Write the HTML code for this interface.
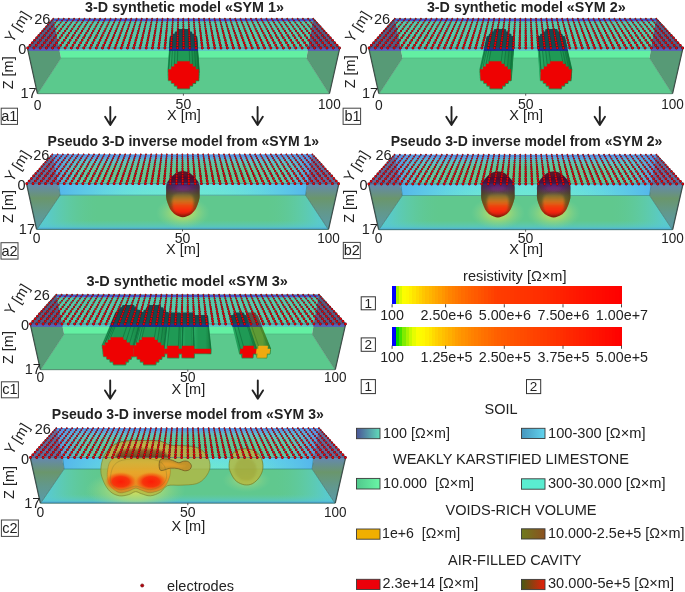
<!DOCTYPE html>
<html><head><meta charset="utf-8"><title>Synthetic and inverse resistivity models</title>
<style>
html,body{margin:0;padding:0;background:#fff;}
body{width:685px;height:592px;overflow:hidden;font-family:"Liberation Sans",sans-serif;}
svg{display:block;}
svg text{font-family:"Liberation Sans",sans-serif;}
</style></head><body>
<svg width="685" height="592" viewBox="0 0 685 592">
<defs>
<filter id="bl1" x="-20%" y="-20%" width="140%" height="140%"><feGaussianBlur stdDeviation="1.2"/></filter>
<filter id="bl2" x="-30%" y="-30%" width="160%" height="160%"><feGaussianBlur stdDeviation="2.5"/></filter>
<filter id="bl3" x="-40%" y="-40%" width="180%" height="180%"><feGaussianBlur stdDeviation="4"/></filter>
<filter id="bl04" x="-2%" y="-10%" width="104%" height="120%"><feGaussianBlur stdDeviation="0.42"/></filter>
<filter id="bl05" x="-20%" y="-20%" width="140%" height="140%"><feGaussianBlur stdDeviation="0.6"/></filter>
<clipPath id="c1"><polygon points="27.7,48.0 339.5,48.0 313.3,18.7 53.3,18.7"/></clipPath>
<clipPath id="c2"><polygon points="27.7,48.0 339.5,48.0 338.8,51.0 28.4,51.0"/></clipPath>
<clipPath id="c3"><polygon points="28.4,51.0 338.8,51.0 329.2,93.7 37.7,93.7"/></clipPath>
<linearGradient id="g1" gradientUnits="userSpaceOnUse" x1="168.4" y1="0.0" x2="198.7" y2="0.0"><stop offset="0" stop-color="#2cae68" stop-opacity="1"/><stop offset="0.3" stop-color="#1f9a55" stop-opacity="1"/><stop offset="0.7" stop-color="#1f9a55" stop-opacity="1"/><stop offset="1" stop-color="#16803f" stop-opacity="1"/></linearGradient>
<path id="synr13" d="M53.3 18.7h0M58.5 18.7h0M63.7 18.7h0M68.9 18.7h0M74.1 18.7h0M79.3 18.7h0M84.5 18.7h0M89.7 18.7h0M94.9 18.7h0M100.1 18.7h0M105.3 18.7h0M110.5 18.7h0M115.7 18.7h0M120.9 18.7h0M126.1 18.7h0M131.3 18.7h0M136.5 18.7h0M141.7 18.7h0M146.9 18.7h0M152.1 18.7h0M157.3 18.7h0M162.5 18.7h0M167.7 18.7h0M172.9 18.7h0M178.1 18.7h0M183.3 18.7h0M188.5 18.7h0M193.7 18.7h0M198.9 18.7h0M204.1 18.7h0M209.3 18.7h0M214.5 18.7h0M219.7 18.7h0M224.9 18.7h0M230.1 18.7h0M235.3 18.7h0M240.5 18.7h0M245.7 18.7h0M250.9 18.7h0M256.1 18.7h0M261.3 18.7h0M266.5 18.7h0M271.7 18.7h0M276.9 18.7h0M282.1 18.7h0M287.3 18.7h0M292.5 18.7h0M297.7 18.7h0M302.9 18.7h0M308.1 18.7h0M313.3 18.7h0"/>
<path id="synr12" d="M51.6 20.6h0M56.9 20.6h0M62.2 20.6h0M67.4 20.6h0M72.7 20.6h0M78.0 20.6h0M83.2 20.6h0M88.5 20.6h0M93.8 20.6h0M99.0 20.6h0M104.3 20.6h0M109.6 20.6h0M114.8 20.6h0M120.1 20.6h0M125.4 20.6h0M130.6 20.6h0M135.9 20.6h0M141.2 20.6h0M146.4 20.6h0M151.7 20.6h0M157.0 20.6h0M162.3 20.6h0M167.5 20.6h0M172.8 20.6h0M178.1 20.6h0M183.3 20.6h0M188.6 20.6h0M193.9 20.6h0M199.1 20.6h0M204.4 20.6h0M209.7 20.6h0M214.9 20.6h0M220.2 20.6h0M225.5 20.6h0M230.7 20.6h0M236.0 20.6h0M241.3 20.6h0M246.5 20.6h0M251.8 20.6h0M257.1 20.6h0M262.3 20.6h0M267.6 20.6h0M272.9 20.6h0M278.1 20.6h0M283.4 20.6h0M288.7 20.6h0M293.9 20.6h0M299.2 20.6h0M304.5 20.6h0M309.7 20.6h0M315.0 20.6h0"/>
<path id="synr11" d="M49.9 22.6h0M55.3 22.6h0M60.6 22.6h0M65.9 22.6h0M71.3 22.6h0M76.6 22.6h0M81.9 22.6h0M87.3 22.6h0M92.6 22.6h0M98.0 22.6h0M103.3 22.6h0M108.6 22.6h0M114.0 22.6h0M119.3 22.6h0M124.6 22.6h0M130.0 22.6h0M135.3 22.6h0M140.6 22.6h0M146.0 22.6h0M151.3 22.6h0M156.7 22.6h0M162.0 22.6h0M167.3 22.6h0M172.7 22.6h0M178.0 22.6h0M183.3 22.6h0M188.7 22.6h0M194.0 22.6h0M199.3 22.6h0M204.7 22.6h0M210.0 22.6h0M215.4 22.6h0M220.7 22.6h0M226.0 22.6h0M231.4 22.6h0M236.7 22.6h0M242.0 22.6h0M247.4 22.6h0M252.7 22.6h0M258.0 22.6h0M263.4 22.6h0M268.7 22.6h0M274.1 22.6h0M279.4 22.6h0M284.7 22.6h0M290.1 22.6h0M295.4 22.6h0M300.7 22.6h0M306.1 22.6h0M311.4 22.6h0M316.7 22.6h0"/>
<path id="synr10" d="M48.2 24.6h0M53.6 24.6h0M59.0 24.6h0M64.4 24.6h0M69.8 24.6h0M75.2 24.6h0M80.6 24.6h0M86.0 24.6h0M91.4 24.6h0M96.8 24.6h0M102.3 24.6h0M107.7 24.6h0M113.1 24.6h0M118.5 24.6h0M123.9 24.6h0M129.3 24.6h0M134.7 24.6h0M140.1 24.6h0M145.5 24.6h0M150.9 24.6h0M156.3 24.6h0M161.7 24.6h0M167.1 24.6h0M172.5 24.6h0M178.0 24.6h0M183.4 24.6h0M188.8 24.6h0M194.2 24.6h0M199.6 24.6h0M205.0 24.6h0M210.4 24.6h0M215.8 24.6h0M221.2 24.6h0M226.6 24.6h0M232.0 24.6h0M237.4 24.6h0M242.8 24.6h0M248.2 24.6h0M253.7 24.6h0M259.1 24.6h0M264.5 24.6h0M269.9 24.6h0M275.3 24.6h0M280.7 24.6h0M286.1 24.6h0M291.5 24.6h0M296.9 24.6h0M302.3 24.6h0M307.7 24.6h0M313.1 24.6h0M318.5 24.6h0"/>
<path id="synr9" d="M46.4 26.6h0M51.9 26.6h0M57.3 26.6h0M62.8 26.6h0M68.3 26.6h0M73.8 26.6h0M79.3 26.6h0M84.7 26.6h0M90.2 26.6h0M95.7 26.6h0M101.2 26.6h0M106.7 26.6h0M112.1 26.6h0M117.6 26.6h0M123.1 26.6h0M128.6 26.6h0M134.1 26.6h0M139.5 26.6h0M145.0 26.6h0M150.5 26.6h0M156.0 26.6h0M161.5 26.6h0M166.9 26.6h0M172.4 26.6h0M177.9 26.6h0M183.4 26.6h0M188.9 26.6h0M194.3 26.6h0M199.8 26.6h0M205.3 26.6h0M210.8 26.6h0M216.3 26.6h0M221.7 26.6h0M227.2 26.6h0M232.7 26.6h0M238.2 26.6h0M243.7 26.6h0M249.1 26.6h0M254.6 26.6h0M260.1 26.6h0M265.6 26.6h0M271.1 26.6h0M276.5 26.6h0M282.0 26.6h0M287.5 26.6h0M293.0 26.6h0M298.5 26.6h0M303.9 26.6h0M309.4 26.6h0M314.9 26.6h0M320.4 26.6h0"/>
<path id="synr8" d="M44.5 28.7h0M50.1 28.7h0M55.6 28.7h0M61.2 28.7h0M66.8 28.7h0M72.3 28.7h0M77.9 28.7h0M83.4 28.7h0M89.0 28.7h0M94.5 28.7h0M100.1 28.7h0M105.6 28.7h0M111.2 28.7h0M116.7 28.7h0M122.3 28.7h0M127.9 28.7h0M133.4 28.7h0M139.0 28.7h0M144.5 28.7h0M150.1 28.7h0M155.6 28.7h0M161.2 28.7h0M166.7 28.7h0M172.3 28.7h0M177.8 28.7h0M183.4 28.7h0M189.0 28.7h0M194.5 28.7h0M200.1 28.7h0M205.6 28.7h0M211.2 28.7h0M216.7 28.7h0M222.3 28.7h0M227.8 28.7h0M233.4 28.7h0M239.0 28.7h0M244.5 28.7h0M250.1 28.7h0M255.6 28.7h0M261.2 28.7h0M266.7 28.7h0M272.3 28.7h0M277.8 28.7h0M283.4 28.7h0M288.9 28.7h0M294.5 28.7h0M300.1 28.7h0M305.6 28.7h0M311.2 28.7h0M316.7 28.7h0M322.3 28.7h0"/>
<path id="synr7" d="M42.6 30.9h0M48.3 30.9h0M53.9 30.9h0M59.5 30.9h0M65.2 30.9h0M70.8 30.9h0M76.4 30.9h0M82.1 30.9h0M87.7 30.9h0M93.3 30.9h0M98.9 30.9h0M104.6 30.9h0M110.2 30.9h0M115.8 30.9h0M121.5 30.9h0M127.1 30.9h0M132.7 30.9h0M138.4 30.9h0M144.0 30.9h0M149.6 30.9h0M155.3 30.9h0M160.9 30.9h0M166.5 30.9h0M172.2 30.9h0M177.8 30.9h0M183.4 30.9h0M189.1 30.9h0M194.7 30.9h0M200.3 30.9h0M206.0 30.9h0M211.6 30.9h0M217.2 30.9h0M222.8 30.9h0M228.5 30.9h0M234.1 30.9h0M239.7 30.9h0M245.4 30.9h0M251.0 30.9h0M256.6 30.9h0M262.3 30.9h0M267.9 30.9h0M273.5 30.9h0M279.2 30.9h0M284.8 30.9h0M290.4 30.9h0M296.1 30.9h0M301.7 30.9h0M307.3 30.9h0M313.0 30.9h0M318.6 30.9h0M324.2 30.9h0"/>
<path id="synr6" d="M40.7 33.1h0M46.4 33.1h0M52.1 33.1h0M57.8 33.1h0M63.5 33.1h0M69.2 33.1h0M74.9 33.1h0M80.7 33.1h0M86.4 33.1h0M92.1 33.1h0M97.8 33.1h0M103.5 33.1h0M109.2 33.1h0M114.9 33.1h0M120.6 33.1h0M126.3 33.1h0M132.1 33.1h0M137.8 33.1h0M143.5 33.1h0M149.2 33.1h0M154.9 33.1h0M160.6 33.1h0M166.3 33.1h0M172.0 33.1h0M177.7 33.1h0M183.4 33.1h0M189.2 33.1h0M194.9 33.1h0M200.6 33.1h0M206.3 33.1h0M212.0 33.1h0M217.7 33.1h0M223.4 33.1h0M229.1 33.1h0M234.8 33.1h0M240.6 33.1h0M246.3 33.1h0M252.0 33.1h0M257.7 33.1h0M263.4 33.1h0M269.1 33.1h0M274.8 33.1h0M280.5 33.1h0M286.2 33.1h0M292.0 33.1h0M297.7 33.1h0M303.4 33.1h0M309.1 33.1h0M314.8 33.1h0M320.5 33.1h0M326.2 33.1h0"/>
<path id="synr5" d="M38.7 35.4h0M44.5 35.4h0M50.3 35.4h0M56.0 35.4h0M61.8 35.4h0M67.6 35.4h0M73.4 35.4h0M79.2 35.4h0M85.0 35.4h0M90.8 35.4h0M96.6 35.4h0M102.4 35.4h0M108.2 35.4h0M114.0 35.4h0M119.8 35.4h0M125.6 35.4h0M131.3 35.4h0M137.1 35.4h0M142.9 35.4h0M148.7 35.4h0M154.5 35.4h0M160.3 35.4h0M166.1 35.4h0M171.9 35.4h0M177.7 35.4h0M183.5 35.4h0M189.3 35.4h0M195.1 35.4h0M200.8 35.4h0M206.6 35.4h0M212.4 35.4h0M218.2 35.4h0M224.0 35.4h0M229.8 35.4h0M235.6 35.4h0M241.4 35.4h0M247.2 35.4h0M253.0 35.4h0M258.8 35.4h0M264.6 35.4h0M270.4 35.4h0M276.1 35.4h0M281.9 35.4h0M287.7 35.4h0M293.5 35.4h0M299.3 35.4h0M305.1 35.4h0M310.9 35.4h0M316.7 35.4h0M322.5 35.4h0M328.3 35.4h0"/>
<path id="synr4" d="M36.6 37.8h0M42.5 37.8h0M48.4 37.8h0M54.2 37.8h0M60.1 37.8h0M66.0 37.8h0M71.9 37.8h0M77.7 37.8h0M83.6 37.8h0M89.5 37.8h0M95.4 37.8h0M101.2 37.8h0M107.1 37.8h0M113.0 37.8h0M118.9 37.8h0M124.7 37.8h0M130.6 37.8h0M136.5 37.8h0M142.4 37.8h0M148.2 37.8h0M154.1 37.8h0M160.0 37.8h0M165.9 37.8h0M171.7 37.8h0M177.6 37.8h0M183.5 37.8h0M189.4 37.8h0M195.2 37.8h0M201.1 37.8h0M207.0 37.8h0M212.9 37.8h0M218.7 37.8h0M224.6 37.8h0M230.5 37.8h0M236.4 37.8h0M242.3 37.8h0M248.1 37.8h0M254.0 37.8h0M259.9 37.8h0M265.8 37.8h0M271.6 37.8h0M277.5 37.8h0M283.4 37.8h0M289.3 37.8h0M295.1 37.8h0M301.0 37.8h0M306.9 37.8h0M312.8 37.8h0M318.6 37.8h0M324.5 37.8h0M330.4 37.8h0"/>
<path id="synr3" d="M34.5 40.2h0M40.4 40.2h0M46.4 40.2h0M52.4 40.2h0M58.3 40.2h0M64.3 40.2h0M70.2 40.2h0M76.2 40.2h0M82.2 40.2h0M88.1 40.2h0M94.1 40.2h0M100.1 40.2h0M106.0 40.2h0M112.0 40.2h0M117.9 40.2h0M123.9 40.2h0M129.9 40.2h0M135.8 40.2h0M141.8 40.2h0M147.8 40.2h0M153.7 40.2h0M159.7 40.2h0M165.6 40.2h0M171.6 40.2h0M177.6 40.2h0M183.5 40.2h0M189.5 40.2h0M195.4 40.2h0M201.4 40.2h0M207.4 40.2h0M213.3 40.2h0M219.3 40.2h0M225.3 40.2h0M231.2 40.2h0M237.2 40.2h0M243.1 40.2h0M249.1 40.2h0M255.1 40.2h0M261.0 40.2h0M267.0 40.2h0M272.9 40.2h0M278.9 40.2h0M284.9 40.2h0M290.8 40.2h0M296.8 40.2h0M302.8 40.2h0M308.7 40.2h0M314.7 40.2h0M320.6 40.2h0M326.6 40.2h0M332.6 40.2h0"/>
<path id="synr2" d="M32.3 42.8h0M38.3 42.8h0M44.4 42.8h0M50.4 42.8h0M56.5 42.8h0M62.5 42.8h0M68.6 42.8h0M74.6 42.8h0M80.7 42.8h0M86.7 42.8h0M92.8 42.8h0M98.8 42.8h0M104.9 42.8h0M110.9 42.8h0M117.0 42.8h0M123.0 42.8h0M129.1 42.8h0M135.1 42.8h0M141.2 42.8h0M147.2 42.8h0M153.3 42.8h0M159.3 42.8h0M165.4 42.8h0M171.4 42.8h0M177.5 42.8h0M183.5 42.8h0M189.6 42.8h0M195.6 42.8h0M201.7 42.8h0M207.7 42.8h0M213.8 42.8h0M219.8 42.8h0M225.9 42.8h0M231.9 42.8h0M238.0 42.8h0M244.1 42.8h0M250.1 42.8h0M256.2 42.8h0M262.2 42.8h0M268.3 42.8h0M274.3 42.8h0M280.4 42.8h0M286.4 42.8h0M292.5 42.8h0M298.5 42.8h0M304.6 42.8h0M310.6 42.8h0M316.7 42.8h0M322.7 42.8h0M328.8 42.8h0M334.8 42.8h0"/>
<path id="synr1" d="M30.0 45.3h0M36.2 45.3h0M42.3 45.3h0M48.5 45.3h0M54.6 45.3h0M60.7 45.3h0M66.9 45.3h0M73.0 45.3h0M79.2 45.3h0M85.3 45.3h0M91.4 45.3h0M97.6 45.3h0M103.7 45.3h0M109.9 45.3h0M116.0 45.3h0M122.2 45.3h0M128.3 45.3h0M134.4 45.3h0M140.6 45.3h0M146.7 45.3h0M152.9 45.3h0M159.0 45.3h0M165.1 45.3h0M171.3 45.3h0M177.4 45.3h0M183.6 45.3h0M189.7 45.3h0M195.9 45.3h0M202.0 45.3h0M208.1 45.3h0M214.3 45.3h0M220.4 45.3h0M226.6 45.3h0M232.7 45.3h0M238.8 45.3h0M245.0 45.3h0M251.1 45.3h0M257.3 45.3h0M263.4 45.3h0M269.6 45.3h0M275.7 45.3h0M281.8 45.3h0M288.0 45.3h0M294.1 45.3h0M300.3 45.3h0M306.4 45.3h0M312.6 45.3h0M318.7 45.3h0M324.8 45.3h0M331.0 45.3h0M337.1 45.3h0"/>
<path id="synr0" d="M27.7 48.0h0M33.9 48.0h0M40.2 48.0h0M46.4 48.0h0M52.6 48.0h0M58.9 48.0h0M65.1 48.0h0M71.4 48.0h0M77.6 48.0h0M83.8 48.0h0M90.1 48.0h0M96.3 48.0h0M102.5 48.0h0M108.8 48.0h0M115.0 48.0h0M121.2 48.0h0M127.5 48.0h0M133.7 48.0h0M139.9 48.0h0M146.2 48.0h0M152.4 48.0h0M158.7 48.0h0M164.9 48.0h0M171.1 48.0h0M177.4 48.0h0M183.6 48.0h0M189.8 48.0h0M196.1 48.0h0M202.3 48.0h0M208.5 48.0h0M214.8 48.0h0M221.0 48.0h0M227.3 48.0h0M233.5 48.0h0M239.7 48.0h0M246.0 48.0h0M252.2 48.0h0M258.4 48.0h0M264.7 48.0h0M270.9 48.0h0M277.1 48.0h0M283.4 48.0h0M289.6 48.0h0M295.8 48.0h0M302.1 48.0h0M308.3 48.0h0M314.6 48.0h0M320.8 48.0h0M327.0 48.0h0M333.3 48.0h0M339.5 48.0h0"/>
<g id="el_syn" fill="none" stroke-linecap="round"><path d="M27.7 48.0L53.3 18.7M33.9 48.0L58.5 18.7M40.2 48.0L63.7 18.7M46.4 48.0L68.9 18.7M52.6 48.0L74.1 18.7M58.9 48.0L79.3 18.7M65.1 48.0L84.5 18.7M71.4 48.0L89.7 18.7M77.6 48.0L94.9 18.7M83.8 48.0L100.1 18.7M90.1 48.0L105.3 18.7M96.3 48.0L110.5 18.7M102.5 48.0L115.7 18.7M108.8 48.0L120.9 18.7M115.0 48.0L126.1 18.7M121.2 48.0L131.3 18.7M127.5 48.0L136.5 18.7M133.7 48.0L141.7 18.7M139.9 48.0L146.9 18.7M146.2 48.0L152.1 18.7M152.4 48.0L157.3 18.7M158.7 48.0L162.5 18.7M164.9 48.0L167.7 18.7M171.1 48.0L172.9 18.7M177.4 48.0L178.1 18.7M183.6 48.0L183.3 18.7M189.8 48.0L188.5 18.7M196.1 48.0L193.7 18.7M202.3 48.0L198.9 18.7M208.5 48.0L204.1 18.7M214.8 48.0L209.3 18.7M221.0 48.0L214.5 18.7M227.3 48.0L219.7 18.7M233.5 48.0L224.9 18.7M239.7 48.0L230.1 18.7M246.0 48.0L235.3 18.7M252.2 48.0L240.5 18.7M258.4 48.0L245.7 18.7M264.7 48.0L250.9 18.7M270.9 48.0L256.1 18.7M277.1 48.0L261.3 18.7M283.4 48.0L266.5 18.7M289.6 48.0L271.7 18.7M295.8 48.0L276.9 18.7M302.1 48.0L282.1 18.7M308.3 48.0L287.3 18.7M314.6 48.0L292.5 18.7M320.8 48.0L297.7 18.7M327.0 48.0L302.9 18.7M333.3 48.0L308.1 18.7M339.5 48.0L313.3 18.7" stroke="#1d4b46" stroke-opacity="0.42" stroke-width="1.0"/><use href="#synr13" stroke="#5e0c18" stroke-width="1.70"/><use href="#synr13" stroke="#c00505" stroke-width="1.10"/><use href="#synr13" stroke="#f80404" stroke-width="0.45"/><use href="#synr12" stroke="#5e0c18" stroke-width="1.78"/><use href="#synr12" stroke="#c00505" stroke-width="1.18"/><use href="#synr12" stroke="#f80404" stroke-width="0.53"/><use href="#synr11" stroke="#5e0c18" stroke-width="1.87"/><use href="#synr11" stroke="#c00505" stroke-width="1.27"/><use href="#synr11" stroke="#f80404" stroke-width="0.62"/><use href="#synr10" stroke="#5e0c18" stroke-width="1.95"/><use href="#synr10" stroke="#c00505" stroke-width="1.35"/><use href="#synr10" stroke="#f80404" stroke-width="0.70"/><use href="#synr9" stroke="#5e0c18" stroke-width="2.04"/><use href="#synr9" stroke="#c00505" stroke-width="1.44"/><use href="#synr9" stroke="#f80404" stroke-width="0.79"/><use href="#synr8" stroke="#5e0c18" stroke-width="2.12"/><use href="#synr8" stroke="#c00505" stroke-width="1.52"/><use href="#synr8" stroke="#f80404" stroke-width="0.87"/><use href="#synr7" stroke="#5e0c18" stroke-width="2.21"/><use href="#synr7" stroke="#c00505" stroke-width="1.61"/><use href="#synr7" stroke="#f80404" stroke-width="0.96"/><use href="#synr6" stroke="#5e0c18" stroke-width="2.29"/><use href="#synr6" stroke="#c00505" stroke-width="1.69"/><use href="#synr6" stroke="#f80404" stroke-width="1.04"/><use href="#synr5" stroke="#5e0c18" stroke-width="2.38"/><use href="#synr5" stroke="#c00505" stroke-width="1.78"/><use href="#synr5" stroke="#f80404" stroke-width="1.13"/><use href="#synr4" stroke="#5e0c18" stroke-width="2.46"/><use href="#synr4" stroke="#c00505" stroke-width="1.86"/><use href="#synr4" stroke="#f80404" stroke-width="1.21"/><use href="#synr3" stroke="#5e0c18" stroke-width="2.55"/><use href="#synr3" stroke="#c00505" stroke-width="1.95"/><use href="#synr3" stroke="#f80404" stroke-width="1.30"/><use href="#synr2" stroke="#5e0c18" stroke-width="2.63"/><use href="#synr2" stroke="#c00505" stroke-width="2.03"/><use href="#synr2" stroke="#f80404" stroke-width="1.38"/><use href="#synr1" stroke="#5e0c18" stroke-width="2.72"/><use href="#synr1" stroke="#c00505" stroke-width="2.12"/><use href="#synr1" stroke="#f80404" stroke-width="1.47"/><use href="#synr0" stroke="#5e0c18" stroke-width="2.80"/><use href="#synr0" stroke="#c00505" stroke-width="2.20"/><use href="#synr0" stroke="#f80404" stroke-width="1.55"/></g>
<clipPath id="c4"><polygon points="369.0,48.0 682.7,48.0 656.3,18.7 394.8,18.7"/></clipPath>
<clipPath id="c5"><polygon points="369.0,48.0 682.7,48.0 682.0,51.0 369.7,51.0"/></clipPath>
<clipPath id="c6"><polygon points="369.7,51.0 682.0,51.0 672.3,93.7 379.1,93.7"/></clipPath>
<linearGradient id="g2" gradientUnits="userSpaceOnUse" x1="480.2" y1="0.0" x2="513.3" y2="0.0"><stop offset="0" stop-color="#2cae68" stop-opacity="1"/><stop offset="0.3" stop-color="#1f9a55" stop-opacity="1"/><stop offset="0.7" stop-color="#1f9a55" stop-opacity="1"/><stop offset="1" stop-color="#16803f" stop-opacity="1"/></linearGradient>
<linearGradient id="g3" gradientUnits="userSpaceOnUse" x1="538.4" y1="0.0" x2="571.4" y2="0.0"><stop offset="0" stop-color="#2cae68" stop-opacity="1"/><stop offset="0.3" stop-color="#1f9a55" stop-opacity="1"/><stop offset="0.7" stop-color="#1f9a55" stop-opacity="1"/><stop offset="1" stop-color="#16803f" stop-opacity="1"/></linearGradient>
<clipPath id="c7"><polygon points="30.5,324.0 345.4,324.0 318.9,294.7 56.3,294.7"/></clipPath>
<clipPath id="c8"><polygon points="30.5,324.0 345.4,324.0 344.7,327.0 31.2,327.0"/></clipPath>
<clipPath id="c9"><polygon points="31.2,327.0 344.7,327.0 335.0,369.7 40.6,369.7"/></clipPath>
<linearGradient id="g4" gradientUnits="userSpaceOnUse" x1="102.4" y1="0.0" x2="142.6" y2="0.0"><stop offset="0" stop-color="#2cae68" stop-opacity="1"/><stop offset="0.3" stop-color="#1f9a55" stop-opacity="1"/><stop offset="0.7" stop-color="#1f9a55" stop-opacity="1"/><stop offset="1" stop-color="#16803f" stop-opacity="1"/></linearGradient>
<linearGradient id="g5" gradientUnits="userSpaceOnUse" x1="133.4" y1="0.0" x2="168.2" y2="0.0"><stop offset="0" stop-color="#2cae68" stop-opacity="1"/><stop offset="0.3" stop-color="#1f9a55" stop-opacity="1"/><stop offset="0.7" stop-color="#1f9a55" stop-opacity="1"/><stop offset="1" stop-color="#16803f" stop-opacity="1"/></linearGradient>
<linearGradient id="g6" gradientUnits="userSpaceOnUse" x1="164.2" y1="0.0" x2="183.4" y2="0.0"><stop offset="0" stop-color="#2cae68" stop-opacity="1"/><stop offset="0.3" stop-color="#1f9a55" stop-opacity="1"/><stop offset="0.7" stop-color="#1f9a55" stop-opacity="1"/><stop offset="1" stop-color="#16803f" stop-opacity="1"/></linearGradient>
<linearGradient id="g7" gradientUnits="userSpaceOnUse" x1="182.1" y1="0.0" x2="194.0" y2="0.0"><stop offset="0" stop-color="#2cae68" stop-opacity="1"/><stop offset="0.3" stop-color="#1f9a55" stop-opacity="1"/><stop offset="0.7" stop-color="#1f9a55" stop-opacity="1"/><stop offset="1" stop-color="#16803f" stop-opacity="1"/></linearGradient>
<linearGradient id="g8" gradientUnits="userSpaceOnUse" x1="193.0" y1="0.0" x2="210.6" y2="0.0"><stop offset="0" stop-color="#2cae68" stop-opacity="1"/><stop offset="0.3" stop-color="#1f9a55" stop-opacity="1"/><stop offset="0.7" stop-color="#1f9a55" stop-opacity="1"/><stop offset="1" stop-color="#16803f" stop-opacity="1"/></linearGradient>
<linearGradient id="g9" gradientUnits="userSpaceOnUse" x1="244.9" y1="0.0" x2="270.2" y2="0.0"><stop offset="0" stop-color="#2cae68" stop-opacity="1"/><stop offset="0.3" stop-color="#5f9a35" stop-opacity="1"/><stop offset="0.7" stop-color="#5f9a35" stop-opacity="1"/><stop offset="1" stop-color="#16803f" stop-opacity="1"/></linearGradient>
<linearGradient id="g10" gradientUnits="userSpaceOnUse" x1="231.7" y1="0.0" x2="256.2" y2="0.0"><stop offset="0" stop-color="#2cae68" stop-opacity="1"/><stop offset="0.3" stop-color="#1f9a55" stop-opacity="1"/><stop offset="0.7" stop-color="#1f9a55" stop-opacity="1"/><stop offset="1" stop-color="#16803f" stop-opacity="1"/></linearGradient>
<clipPath id="c10"><polygon points="26.8,183.7 338.6,183.7 312.4,154.4 52.4,154.4"/></clipPath>
<clipPath id="c11"><polygon points="26.8,183.7 338.6,183.7 328.3,229.4 36.8,229.4"/></clipPath>
<clipPath id="c12"><polygon points="36.8,229.4 328.3,229.4 305.6,195.2 60.1,195.2"/></clipPath>
<linearGradient id="g11" gradientUnits="userSpaceOnUse" x1="46.1" y1="0.0" x2="100.1" y2="0.0"><stop offset="0" stop-color="#58cad6" stop-opacity="0.85"/><stop offset="0.4" stop-color="#5ccdc0" stop-opacity="0.45"/><stop offset="1" stop-color="#60c88e" stop-opacity="0"/></linearGradient>
<linearGradient id="g12" gradientUnits="userSpaceOnUse" x1="319.6" y1="0.0" x2="265.6" y2="0.0"><stop offset="0" stop-color="#58cad6" stop-opacity="0.85"/><stop offset="0.4" stop-color="#5ccdc0" stop-opacity="0.45"/><stop offset="1" stop-color="#60c88e" stop-opacity="0"/></linearGradient>
<linearGradient id="g13" gradientUnits="userSpaceOnUse" x1="0.0" y1="229.4" x2="0.0" y2="220.4"><stop offset="0" stop-color="#4a9fd6" stop-opacity="1"/><stop offset="0.3" stop-color="#55c4d6" stop-opacity="0.6"/><stop offset="1" stop-color="#5ccfc0" stop-opacity="0"/></linearGradient>
<linearGradient id="g14" gradientUnits="userSpaceOnUse" x1="0.0" y1="154.4" x2="0.0" y2="195.2"><stop offset="0" stop-color="#5a9be6" stop-opacity="1"/><stop offset="0.72" stop-color="#62d8ec" stop-opacity="1"/><stop offset="1" stop-color="#6ee6d2" stop-opacity="1"/></linearGradient>
<linearGradient id="g15" gradientUnits="userSpaceOnUse" x1="60.1" y1="0.0" x2="170.1" y2="0.0"><stop offset="0" stop-color="#52b0ee" stop-opacity="0.85"/><stop offset="0.5" stop-color="#5cc8ea" stop-opacity="0.4"/><stop offset="1" stop-color="#6ee6d6" stop-opacity="0"/></linearGradient>
<linearGradient id="g16" gradientUnits="userSpaceOnUse" x1="305.6" y1="0.0" x2="195.6" y2="0.0"><stop offset="0" stop-color="#52b0ee" stop-opacity="0.85"/><stop offset="0.5" stop-color="#5cc8ea" stop-opacity="0.4"/><stop offset="1" stop-color="#6ee6d6" stop-opacity="0"/></linearGradient>
<linearGradient id="g17" gradientUnits="userSpaceOnUse" x1="92.5" y1="0.0" x2="272.5" y2="0.0"><stop offset="0" stop-color="#70ead0" stop-opacity="0"/><stop offset="0.5" stop-color="#70ead0" stop-opacity="0.55"/><stop offset="1" stop-color="#70ead0" stop-opacity="0"/></linearGradient>
<linearGradient id="g18" gradientUnits="userSpaceOnUse" x1="0.0" y1="183.7" x2="0.0" y2="229.4"><stop offset="0" stop-color="#6488b2" stop-opacity="1"/><stop offset="0.32" stop-color="#6a966c" stop-opacity="1"/><stop offset="0.62" stop-color="#62988c" stop-opacity="1"/><stop offset="1" stop-color="#5a9aa8" stop-opacity="1"/></linearGradient>
<linearGradient id="g19" gradientUnits="userSpaceOnUse" x1="0.0" y1="183.7" x2="0.0" y2="229.4"><stop offset="0" stop-color="#6488b2" stop-opacity="1"/><stop offset="0.32" stop-color="#6a966c" stop-opacity="1"/><stop offset="0.62" stop-color="#62988c" stop-opacity="1"/><stop offset="1" stop-color="#5a9aa8" stop-opacity="1"/></linearGradient>
<radialGradient id="g20" gradientUnits="userSpaceOnUse" cx="182.9" cy="212.7" r="27.0" gradientTransform="translate(182.9 212.7) scale(1 0.6) translate(-182.9 -212.7)"><stop offset="0" stop-color="#e8e048" stop-opacity="0.9"/><stop offset="0.4" stop-color="#c4e064" stop-opacity="0.6"/><stop offset="1" stop-color="#90d890" stop-opacity="0"/></radialGradient>
<linearGradient id="g21" gradientUnits="userSpaceOnUse" x1="0.0" y1="171.4" x2="0.0" y2="217.1"><stop offset="0" stop-color="#3a1a58" stop-opacity="1"/><stop offset="0.28" stop-color="#4a1e6e" stop-opacity="1"/><stop offset="0.38" stop-color="#5a2c6a" stop-opacity="1"/><stop offset="0.46" stop-color="#5c4848" stop-opacity="1"/><stop offset="0.54" stop-color="#686434" stop-opacity="1"/><stop offset="0.64" stop-color="#806c28" stop-opacity="1"/><stop offset="0.74" stop-color="#a0541c" stop-opacity="1"/><stop offset="0.84" stop-color="#c03412" stop-opacity="1"/><stop offset="0.93" stop-color="#a8200e" stop-opacity="1"/><stop offset="1" stop-color="#781a0c" stop-opacity="1"/></linearGradient>
<linearGradient id="g22" gradientUnits="userSpaceOnUse" x1="166.3" y1="0.0" x2="199.5" y2="0.0"><stop offset="0" stop-color="#3a3414" stop-opacity="0.5"/><stop offset="0.22" stop-color="#3a3414" stop-opacity="0.12"/><stop offset="0.5" stop-color="#3a3414" stop-opacity="0"/><stop offset="0.78" stop-color="#3a3414" stop-opacity="0.12"/><stop offset="1" stop-color="#3a3414" stop-opacity="0.5"/></linearGradient>
<linearGradient id="g23" gradientUnits="userSpaceOnUse" x1="0.0" y1="191.7" x2="0.0" y2="214.7"><stop offset="0" stop-color="#7a6a38" stop-opacity="0"/><stop offset="0.2" stop-color="#a07a2c" stop-opacity="0.7"/><stop offset="0.42" stop-color="#d0701c" stop-opacity="1"/><stop offset="0.62" stop-color="#f0420e" stop-opacity="1"/><stop offset="0.82" stop-color="#f82a0a" stop-opacity="1"/><stop offset="1" stop-color="#d81c0a" stop-opacity="1"/></linearGradient>
<linearGradient id="g24" gradientUnits="userSpaceOnUse" x1="0.0" y1="154.4" x2="0.0" y2="183.7"><stop offset="0" stop-color="#5585e2" stop-opacity="1"/><stop offset="0.08" stop-color="#5b9fe0" stop-opacity="1"/><stop offset="0.22" stop-color="#5fc0cc" stop-opacity="1"/><stop offset="0.42" stop-color="#60c8b0" stop-opacity="1"/><stop offset="1" stop-color="#60c8a4" stop-opacity="1"/></linearGradient>
<radialGradient id="g25" gradientUnits="userSpaceOnUse" cx="182.5" cy="175.0" r="120.0" gradientTransform="translate(182.5 175.0) scale(1 0.16) translate(-182.5 -175.0)"><stop offset="0" stop-color="#62c486" stop-opacity="0.95"/><stop offset="0.6" stop-color="#62c48c" stop-opacity="0.7"/><stop offset="1" stop-color="#62c4a0" stop-opacity="0"/></radialGradient>
<linearGradient id="g26" gradientUnits="userSpaceOnUse" x1="56.4" y1="0.0" x2="82.4" y2="0.0"><stop offset="0" stop-color="#5a90e2" stop-opacity="0.8"/><stop offset="1" stop-color="#5fb0dc" stop-opacity="0"/></linearGradient>
<linearGradient id="g27" gradientUnits="userSpaceOnUse" x1="308.4" y1="0.0" x2="282.4" y2="0.0"><stop offset="0" stop-color="#5a90e2" stop-opacity="0.8"/><stop offset="1" stop-color="#5fb0dc" stop-opacity="0"/></linearGradient>
<linearGradient id="g28" gradientUnits="userSpaceOnUse" x1="0.0" y1="171.4" x2="0.0" y2="185.7"><stop offset="0" stop-color="#5c1426" stop-opacity="1"/><stop offset="0.5" stop-color="#4c1030" stop-opacity="1"/><stop offset="0.85" stop-color="#42184e" stop-opacity="1"/><stop offset="1" stop-color="#3c2468" stop-opacity="1"/></linearGradient>
<path id="invr13" d="M53.3 18.7h0M58.5 18.7h0M63.7 18.7h0M68.9 18.7h0M74.1 18.7h0M79.3 18.7h0M84.5 18.7h0M89.7 18.7h0M94.9 18.7h0M100.1 18.7h0M105.3 18.7h0M110.5 18.7h0M115.7 18.7h0M120.9 18.7h0M126.1 18.7h0M131.3 18.7h0M136.5 18.7h0M141.7 18.7h0M146.9 18.7h0M152.1 18.7h0M157.3 18.7h0M162.5 18.7h0M167.7 18.7h0M172.9 18.7h0M178.1 18.7h0M183.3 18.7h0M188.5 18.7h0M193.7 18.7h0M198.9 18.7h0M204.1 18.7h0M209.3 18.7h0M214.5 18.7h0M219.7 18.7h0M224.9 18.7h0M230.1 18.7h0M235.3 18.7h0M240.5 18.7h0M245.7 18.7h0M250.9 18.7h0M256.1 18.7h0M261.3 18.7h0M266.5 18.7h0M271.7 18.7h0M276.9 18.7h0M282.1 18.7h0M287.3 18.7h0M292.5 18.7h0M297.7 18.7h0M302.9 18.7h0M308.1 18.7h0M313.3 18.7h0"/>
<path id="invr12" d="M51.6 20.6h0M56.9 20.6h0M62.2 20.6h0M67.4 20.6h0M72.7 20.6h0M78.0 20.6h0M83.2 20.6h0M88.5 20.6h0M93.8 20.6h0M99.0 20.6h0M104.3 20.6h0M109.6 20.6h0M114.8 20.6h0M120.1 20.6h0M125.4 20.6h0M130.6 20.6h0M135.9 20.6h0M141.2 20.6h0M146.4 20.6h0M151.7 20.6h0M157.0 20.6h0M162.3 20.6h0M167.5 20.6h0M172.8 20.6h0M178.1 20.6h0M183.3 20.6h0M188.6 20.6h0M193.9 20.6h0M199.1 20.6h0M204.4 20.6h0M209.7 20.6h0M214.9 20.6h0M220.2 20.6h0M225.5 20.6h0M230.7 20.6h0M236.0 20.6h0M241.3 20.6h0M246.5 20.6h0M251.8 20.6h0M257.1 20.6h0M262.3 20.6h0M267.6 20.6h0M272.9 20.6h0M278.1 20.6h0M283.4 20.6h0M288.7 20.6h0M293.9 20.6h0M299.2 20.6h0M304.5 20.6h0M309.7 20.6h0M315.0 20.6h0"/>
<path id="invr11" d="M49.9 22.6h0M55.3 22.6h0M60.6 22.6h0M65.9 22.6h0M71.3 22.6h0M76.6 22.6h0M81.9 22.6h0M87.3 22.6h0M92.6 22.6h0M98.0 22.6h0M103.3 22.6h0M108.6 22.6h0M114.0 22.6h0M119.3 22.6h0M124.6 22.6h0M130.0 22.6h0M135.3 22.6h0M140.6 22.6h0M146.0 22.6h0M151.3 22.6h0M156.7 22.6h0M162.0 22.6h0M167.3 22.6h0M172.7 22.6h0M178.0 22.6h0M183.3 22.6h0M188.7 22.6h0M194.0 22.6h0M199.3 22.6h0M204.7 22.6h0M210.0 22.6h0M215.4 22.6h0M220.7 22.6h0M226.0 22.6h0M231.4 22.6h0M236.7 22.6h0M242.0 22.6h0M247.4 22.6h0M252.7 22.6h0M258.0 22.6h0M263.4 22.6h0M268.7 22.6h0M274.1 22.6h0M279.4 22.6h0M284.7 22.6h0M290.1 22.6h0M295.4 22.6h0M300.7 22.6h0M306.1 22.6h0M311.4 22.6h0M316.7 22.6h0"/>
<path id="invr10" d="M48.2 24.6h0M53.6 24.6h0M59.0 24.6h0M64.4 24.6h0M69.8 24.6h0M75.2 24.6h0M80.6 24.6h0M86.0 24.6h0M91.4 24.6h0M96.8 24.6h0M102.3 24.6h0M107.7 24.6h0M113.1 24.6h0M118.5 24.6h0M123.9 24.6h0M129.3 24.6h0M134.7 24.6h0M140.1 24.6h0M145.5 24.6h0M150.9 24.6h0M156.3 24.6h0M161.7 24.6h0M167.1 24.6h0M172.5 24.6h0M178.0 24.6h0M183.4 24.6h0M188.8 24.6h0M194.2 24.6h0M199.6 24.6h0M205.0 24.6h0M210.4 24.6h0M215.8 24.6h0M221.2 24.6h0M226.6 24.6h0M232.0 24.6h0M237.4 24.6h0M242.8 24.6h0M248.2 24.6h0M253.7 24.6h0M259.1 24.6h0M264.5 24.6h0M269.9 24.6h0M275.3 24.6h0M280.7 24.6h0M286.1 24.6h0M291.5 24.6h0M296.9 24.6h0M302.3 24.6h0M307.7 24.6h0M313.1 24.6h0M318.5 24.6h0"/>
<path id="invr9" d="M46.4 26.6h0M51.9 26.6h0M57.3 26.6h0M62.8 26.6h0M68.3 26.6h0M73.8 26.6h0M79.3 26.6h0M84.7 26.6h0M90.2 26.6h0M95.7 26.6h0M101.2 26.6h0M106.7 26.6h0M112.1 26.6h0M117.6 26.6h0M123.1 26.6h0M128.6 26.6h0M134.1 26.6h0M139.5 26.6h0M145.0 26.6h0M150.5 26.6h0M156.0 26.6h0M161.5 26.6h0M166.9 26.6h0M172.4 26.6h0M177.9 26.6h0M183.4 26.6h0M188.9 26.6h0M194.3 26.6h0M199.8 26.6h0M205.3 26.6h0M210.8 26.6h0M216.3 26.6h0M221.7 26.6h0M227.2 26.6h0M232.7 26.6h0M238.2 26.6h0M243.7 26.6h0M249.1 26.6h0M254.6 26.6h0M260.1 26.6h0M265.6 26.6h0M271.1 26.6h0M276.5 26.6h0M282.0 26.6h0M287.5 26.6h0M293.0 26.6h0M298.5 26.6h0M303.9 26.6h0M309.4 26.6h0M314.9 26.6h0M320.4 26.6h0"/>
<path id="invr8" d="M44.5 28.7h0M50.1 28.7h0M55.6 28.7h0M61.2 28.7h0M66.8 28.7h0M72.3 28.7h0M77.9 28.7h0M83.4 28.7h0M89.0 28.7h0M94.5 28.7h0M100.1 28.7h0M105.6 28.7h0M111.2 28.7h0M116.7 28.7h0M122.3 28.7h0M127.9 28.7h0M133.4 28.7h0M139.0 28.7h0M144.5 28.7h0M150.1 28.7h0M155.6 28.7h0M161.2 28.7h0M166.7 28.7h0M172.3 28.7h0M177.8 28.7h0M183.4 28.7h0M189.0 28.7h0M194.5 28.7h0M200.1 28.7h0M205.6 28.7h0M211.2 28.7h0M216.7 28.7h0M222.3 28.7h0M227.8 28.7h0M233.4 28.7h0M239.0 28.7h0M244.5 28.7h0M250.1 28.7h0M255.6 28.7h0M261.2 28.7h0M266.7 28.7h0M272.3 28.7h0M277.8 28.7h0M283.4 28.7h0M288.9 28.7h0M294.5 28.7h0M300.1 28.7h0M305.6 28.7h0M311.2 28.7h0M316.7 28.7h0M322.3 28.7h0"/>
<path id="invr7" d="M42.6 30.9h0M48.3 30.9h0M53.9 30.9h0M59.5 30.9h0M65.2 30.9h0M70.8 30.9h0M76.4 30.9h0M82.1 30.9h0M87.7 30.9h0M93.3 30.9h0M98.9 30.9h0M104.6 30.9h0M110.2 30.9h0M115.8 30.9h0M121.5 30.9h0M127.1 30.9h0M132.7 30.9h0M138.4 30.9h0M144.0 30.9h0M149.6 30.9h0M155.3 30.9h0M160.9 30.9h0M166.5 30.9h0M172.2 30.9h0M177.8 30.9h0M183.4 30.9h0M189.1 30.9h0M194.7 30.9h0M200.3 30.9h0M206.0 30.9h0M211.6 30.9h0M217.2 30.9h0M222.8 30.9h0M228.5 30.9h0M234.1 30.9h0M239.7 30.9h0M245.4 30.9h0M251.0 30.9h0M256.6 30.9h0M262.3 30.9h0M267.9 30.9h0M273.5 30.9h0M279.2 30.9h0M284.8 30.9h0M290.4 30.9h0M296.1 30.9h0M301.7 30.9h0M307.3 30.9h0M313.0 30.9h0M318.6 30.9h0M324.2 30.9h0"/>
<path id="invr6" d="M40.7 33.1h0M46.4 33.1h0M52.1 33.1h0M57.8 33.1h0M63.5 33.1h0M69.2 33.1h0M74.9 33.1h0M80.7 33.1h0M86.4 33.1h0M92.1 33.1h0M97.8 33.1h0M103.5 33.1h0M109.2 33.1h0M114.9 33.1h0M120.6 33.1h0M126.3 33.1h0M132.1 33.1h0M137.8 33.1h0M143.5 33.1h0M149.2 33.1h0M154.9 33.1h0M160.6 33.1h0M166.3 33.1h0M172.0 33.1h0M177.7 33.1h0M183.4 33.1h0M189.2 33.1h0M194.9 33.1h0M200.6 33.1h0M206.3 33.1h0M212.0 33.1h0M217.7 33.1h0M223.4 33.1h0M229.1 33.1h0M234.8 33.1h0M240.6 33.1h0M246.3 33.1h0M252.0 33.1h0M257.7 33.1h0M263.4 33.1h0M269.1 33.1h0M274.8 33.1h0M280.5 33.1h0M286.2 33.1h0M292.0 33.1h0M297.7 33.1h0M303.4 33.1h0M309.1 33.1h0M314.8 33.1h0M320.5 33.1h0M326.2 33.1h0"/>
<path id="invr5" d="M38.7 35.4h0M44.5 35.4h0M50.3 35.4h0M56.0 35.4h0M61.8 35.4h0M67.6 35.4h0M73.4 35.4h0M79.2 35.4h0M85.0 35.4h0M90.8 35.4h0M96.6 35.4h0M102.4 35.4h0M108.2 35.4h0M114.0 35.4h0M119.8 35.4h0M125.6 35.4h0M131.3 35.4h0M137.1 35.4h0M142.9 35.4h0M148.7 35.4h0M154.5 35.4h0M160.3 35.4h0M166.1 35.4h0M171.9 35.4h0M177.7 35.4h0M183.5 35.4h0M189.3 35.4h0M195.1 35.4h0M200.8 35.4h0M206.6 35.4h0M212.4 35.4h0M218.2 35.4h0M224.0 35.4h0M229.8 35.4h0M235.6 35.4h0M241.4 35.4h0M247.2 35.4h0M253.0 35.4h0M258.8 35.4h0M264.6 35.4h0M270.4 35.4h0M276.1 35.4h0M281.9 35.4h0M287.7 35.4h0M293.5 35.4h0M299.3 35.4h0M305.1 35.4h0M310.9 35.4h0M316.7 35.4h0M322.5 35.4h0M328.3 35.4h0"/>
<path id="invr4" d="M36.6 37.8h0M42.5 37.8h0M48.4 37.8h0M54.2 37.8h0M60.1 37.8h0M66.0 37.8h0M71.9 37.8h0M77.7 37.8h0M83.6 37.8h0M89.5 37.8h0M95.4 37.8h0M101.2 37.8h0M107.1 37.8h0M113.0 37.8h0M118.9 37.8h0M124.7 37.8h0M130.6 37.8h0M136.5 37.8h0M142.4 37.8h0M148.2 37.8h0M154.1 37.8h0M160.0 37.8h0M165.9 37.8h0M171.7 37.8h0M177.6 37.8h0M183.5 37.8h0M189.4 37.8h0M195.2 37.8h0M201.1 37.8h0M207.0 37.8h0M212.9 37.8h0M218.7 37.8h0M224.6 37.8h0M230.5 37.8h0M236.4 37.8h0M242.3 37.8h0M248.1 37.8h0M254.0 37.8h0M259.9 37.8h0M265.8 37.8h0M271.6 37.8h0M277.5 37.8h0M283.4 37.8h0M289.3 37.8h0M295.1 37.8h0M301.0 37.8h0M306.9 37.8h0M312.8 37.8h0M318.6 37.8h0M324.5 37.8h0M330.4 37.8h0"/>
<path id="invr3" d="M34.5 40.2h0M40.4 40.2h0M46.4 40.2h0M52.4 40.2h0M58.3 40.2h0M64.3 40.2h0M70.2 40.2h0M76.2 40.2h0M82.2 40.2h0M88.1 40.2h0M94.1 40.2h0M100.1 40.2h0M106.0 40.2h0M112.0 40.2h0M117.9 40.2h0M123.9 40.2h0M129.9 40.2h0M135.8 40.2h0M141.8 40.2h0M147.8 40.2h0M153.7 40.2h0M159.7 40.2h0M165.6 40.2h0M171.6 40.2h0M177.6 40.2h0M183.5 40.2h0M189.5 40.2h0M195.4 40.2h0M201.4 40.2h0M207.4 40.2h0M213.3 40.2h0M219.3 40.2h0M225.3 40.2h0M231.2 40.2h0M237.2 40.2h0M243.1 40.2h0M249.1 40.2h0M255.1 40.2h0M261.0 40.2h0M267.0 40.2h0M272.9 40.2h0M278.9 40.2h0M284.9 40.2h0M290.8 40.2h0M296.8 40.2h0M302.8 40.2h0M308.7 40.2h0M314.7 40.2h0M320.6 40.2h0M326.6 40.2h0M332.6 40.2h0"/>
<path id="invr2" d="M32.3 42.8h0M38.3 42.8h0M44.4 42.8h0M50.4 42.8h0M56.5 42.8h0M62.5 42.8h0M68.6 42.8h0M74.6 42.8h0M80.7 42.8h0M86.7 42.8h0M92.8 42.8h0M98.8 42.8h0M104.9 42.8h0M110.9 42.8h0M117.0 42.8h0M123.0 42.8h0M129.1 42.8h0M135.1 42.8h0M141.2 42.8h0M147.2 42.8h0M153.3 42.8h0M159.3 42.8h0M165.4 42.8h0M171.4 42.8h0M177.5 42.8h0M183.5 42.8h0M189.6 42.8h0M195.6 42.8h0M201.7 42.8h0M207.7 42.8h0M213.8 42.8h0M219.8 42.8h0M225.9 42.8h0M231.9 42.8h0M238.0 42.8h0M244.1 42.8h0M250.1 42.8h0M256.2 42.8h0M262.2 42.8h0M268.3 42.8h0M274.3 42.8h0M280.4 42.8h0M286.4 42.8h0M292.5 42.8h0M298.5 42.8h0M304.6 42.8h0M310.6 42.8h0M316.7 42.8h0M322.7 42.8h0M328.8 42.8h0M334.8 42.8h0"/>
<path id="invr1" d="M30.0 45.3h0M36.2 45.3h0M42.3 45.3h0M48.5 45.3h0M54.6 45.3h0M60.7 45.3h0M66.9 45.3h0M73.0 45.3h0M79.2 45.3h0M85.3 45.3h0M91.4 45.3h0M97.6 45.3h0M103.7 45.3h0M109.9 45.3h0M116.0 45.3h0M122.2 45.3h0M128.3 45.3h0M134.4 45.3h0M140.6 45.3h0M146.7 45.3h0M152.9 45.3h0M159.0 45.3h0M165.1 45.3h0M171.3 45.3h0M177.4 45.3h0M183.6 45.3h0M189.7 45.3h0M195.9 45.3h0M202.0 45.3h0M208.1 45.3h0M214.3 45.3h0M220.4 45.3h0M226.6 45.3h0M232.7 45.3h0M238.8 45.3h0M245.0 45.3h0M251.1 45.3h0M257.3 45.3h0M263.4 45.3h0M269.6 45.3h0M275.7 45.3h0M281.8 45.3h0M288.0 45.3h0M294.1 45.3h0M300.3 45.3h0M306.4 45.3h0M312.6 45.3h0M318.7 45.3h0M324.8 45.3h0M331.0 45.3h0M337.1 45.3h0"/>
<path id="invr0" d="M27.7 48.0h0M33.9 48.0h0M40.2 48.0h0M46.4 48.0h0M52.6 48.0h0M58.9 48.0h0M65.1 48.0h0M71.4 48.0h0M77.6 48.0h0M83.8 48.0h0M90.1 48.0h0M96.3 48.0h0M102.5 48.0h0M108.8 48.0h0M115.0 48.0h0M121.2 48.0h0M127.5 48.0h0M133.7 48.0h0M139.9 48.0h0M146.2 48.0h0M152.4 48.0h0M158.7 48.0h0M164.9 48.0h0M171.1 48.0h0M177.4 48.0h0M183.6 48.0h0M189.8 48.0h0M196.1 48.0h0M202.3 48.0h0M208.5 48.0h0M214.8 48.0h0M221.0 48.0h0M227.3 48.0h0M233.5 48.0h0M239.7 48.0h0M246.0 48.0h0M252.2 48.0h0M258.4 48.0h0M264.7 48.0h0M270.9 48.0h0M277.1 48.0h0M283.4 48.0h0M289.6 48.0h0M295.8 48.0h0M302.1 48.0h0M308.3 48.0h0M314.6 48.0h0M320.8 48.0h0M327.0 48.0h0M333.3 48.0h0M339.5 48.0h0"/>
<g id="el_inv" fill="none" stroke-linecap="round"><path d="M27.7 48.0L53.3 18.7M33.9 48.0L58.5 18.7M40.2 48.0L63.7 18.7M46.4 48.0L68.9 18.7M52.6 48.0L74.1 18.7M58.9 48.0L79.3 18.7M65.1 48.0L84.5 18.7M71.4 48.0L89.7 18.7M77.6 48.0L94.9 18.7M83.8 48.0L100.1 18.7M90.1 48.0L105.3 18.7M96.3 48.0L110.5 18.7M102.5 48.0L115.7 18.7M108.8 48.0L120.9 18.7M115.0 48.0L126.1 18.7M121.2 48.0L131.3 18.7M127.5 48.0L136.5 18.7M133.7 48.0L141.7 18.7M139.9 48.0L146.9 18.7M146.2 48.0L152.1 18.7M152.4 48.0L157.3 18.7M158.7 48.0L162.5 18.7M164.9 48.0L167.7 18.7M171.1 48.0L172.9 18.7M177.4 48.0L178.1 18.7M183.6 48.0L183.3 18.7M189.8 48.0L188.5 18.7M196.1 48.0L193.7 18.7M202.3 48.0L198.9 18.7M208.5 48.0L204.1 18.7M214.8 48.0L209.3 18.7M221.0 48.0L214.5 18.7M227.3 48.0L219.7 18.7M233.5 48.0L224.9 18.7M239.7 48.0L230.1 18.7M246.0 48.0L235.3 18.7M252.2 48.0L240.5 18.7M258.4 48.0L245.7 18.7M264.7 48.0L250.9 18.7M270.9 48.0L256.1 18.7M277.1 48.0L261.3 18.7M283.4 48.0L266.5 18.7M289.6 48.0L271.7 18.7M295.8 48.0L276.9 18.7M302.1 48.0L282.1 18.7M308.3 48.0L287.3 18.7M314.6 48.0L292.5 18.7M320.8 48.0L297.7 18.7M327.0 48.0L302.9 18.7M333.3 48.0L308.1 18.7M339.5 48.0L313.3 18.7" stroke="#24488c" stroke-opacity="0.42" stroke-width="1.0"/><use href="#invr13" stroke="#5e0c18" stroke-width="1.70"/><use href="#invr13" stroke="#c00505" stroke-width="1.10"/><use href="#invr13" stroke="#f80404" stroke-width="0.45"/><use href="#invr12" stroke="#5e0c18" stroke-width="1.78"/><use href="#invr12" stroke="#c00505" stroke-width="1.18"/><use href="#invr12" stroke="#f80404" stroke-width="0.53"/><use href="#invr11" stroke="#5e0c18" stroke-width="1.87"/><use href="#invr11" stroke="#c00505" stroke-width="1.27"/><use href="#invr11" stroke="#f80404" stroke-width="0.62"/><use href="#invr10" stroke="#5e0c18" stroke-width="1.95"/><use href="#invr10" stroke="#c00505" stroke-width="1.35"/><use href="#invr10" stroke="#f80404" stroke-width="0.70"/><use href="#invr9" stroke="#5e0c18" stroke-width="2.04"/><use href="#invr9" stroke="#c00505" stroke-width="1.44"/><use href="#invr9" stroke="#f80404" stroke-width="0.79"/><use href="#invr8" stroke="#5e0c18" stroke-width="2.12"/><use href="#invr8" stroke="#c00505" stroke-width="1.52"/><use href="#invr8" stroke="#f80404" stroke-width="0.87"/><use href="#invr7" stroke="#5e0c18" stroke-width="2.21"/><use href="#invr7" stroke="#c00505" stroke-width="1.61"/><use href="#invr7" stroke="#f80404" stroke-width="0.96"/><use href="#invr6" stroke="#5e0c18" stroke-width="2.29"/><use href="#invr6" stroke="#c00505" stroke-width="1.69"/><use href="#invr6" stroke="#f80404" stroke-width="1.04"/><use href="#invr5" stroke="#5e0c18" stroke-width="2.38"/><use href="#invr5" stroke="#c00505" stroke-width="1.78"/><use href="#invr5" stroke="#f80404" stroke-width="1.13"/><use href="#invr4" stroke="#5e0c18" stroke-width="2.46"/><use href="#invr4" stroke="#c00505" stroke-width="1.86"/><use href="#invr4" stroke="#f80404" stroke-width="1.21"/><use href="#invr3" stroke="#5e0c18" stroke-width="2.55"/><use href="#invr3" stroke="#c00505" stroke-width="1.95"/><use href="#invr3" stroke="#f80404" stroke-width="1.30"/><use href="#invr2" stroke="#5e0c18" stroke-width="2.63"/><use href="#invr2" stroke="#c00505" stroke-width="2.03"/><use href="#invr2" stroke="#f80404" stroke-width="1.38"/><use href="#invr1" stroke="#5e0c18" stroke-width="2.72"/><use href="#invr1" stroke="#c00505" stroke-width="2.12"/><use href="#invr1" stroke="#f80404" stroke-width="1.47"/><use href="#invr0" stroke="#5e0c18" stroke-width="2.80"/><use href="#invr0" stroke="#c00505" stroke-width="2.20"/><use href="#invr0" stroke="#f80404" stroke-width="1.55"/></g>
<clipPath id="c13"><polygon points="368.8,184.0 682.8,184.0 656.4,154.7 394.6,154.7"/></clipPath>
<clipPath id="c14"><polygon points="368.8,184.0 682.8,184.0 672.4,229.7 378.9,229.7"/></clipPath>
<clipPath id="c15"><polygon points="378.9,229.7 672.4,229.7 649.6,195.5 402.3,195.5"/></clipPath>
<linearGradient id="g29" gradientUnits="userSpaceOnUse" x1="388.3" y1="0.0" x2="442.3" y2="0.0"><stop offset="0" stop-color="#58cad6" stop-opacity="0.85"/><stop offset="0.4" stop-color="#5ccdc0" stop-opacity="0.45"/><stop offset="1" stop-color="#60c88e" stop-opacity="0"/></linearGradient>
<linearGradient id="g30" gradientUnits="userSpaceOnUse" x1="663.6" y1="0.0" x2="609.6" y2="0.0"><stop offset="0" stop-color="#58cad6" stop-opacity="0.85"/><stop offset="0.4" stop-color="#5ccdc0" stop-opacity="0.45"/><stop offset="1" stop-color="#60c88e" stop-opacity="0"/></linearGradient>
<linearGradient id="g31" gradientUnits="userSpaceOnUse" x1="0.0" y1="229.7" x2="0.0" y2="220.7"><stop offset="0" stop-color="#4a9fd6" stop-opacity="1"/><stop offset="0.3" stop-color="#55c4d6" stop-opacity="0.6"/><stop offset="1" stop-color="#5ccfc0" stop-opacity="0"/></linearGradient>
<linearGradient id="g32" gradientUnits="userSpaceOnUse" x1="0.0" y1="154.7" x2="0.0" y2="195.5"><stop offset="0" stop-color="#5a9be6" stop-opacity="1"/><stop offset="0.72" stop-color="#62d8ec" stop-opacity="1"/><stop offset="1" stop-color="#6ee6d2" stop-opacity="1"/></linearGradient>
<linearGradient id="g33" gradientUnits="userSpaceOnUse" x1="402.3" y1="0.0" x2="512.3" y2="0.0"><stop offset="0" stop-color="#52b0ee" stop-opacity="0.85"/><stop offset="0.5" stop-color="#5cc8ea" stop-opacity="0.4"/><stop offset="1" stop-color="#6ee6d6" stop-opacity="0"/></linearGradient>
<linearGradient id="g34" gradientUnits="userSpaceOnUse" x1="649.6" y1="0.0" x2="539.6" y2="0.0"><stop offset="0" stop-color="#52b0ee" stop-opacity="0.85"/><stop offset="0.5" stop-color="#5cc8ea" stop-opacity="0.4"/><stop offset="1" stop-color="#6ee6d6" stop-opacity="0"/></linearGradient>
<linearGradient id="g35" gradientUnits="userSpaceOnUse" x1="435.6" y1="0.0" x2="615.6" y2="0.0"><stop offset="0" stop-color="#70ead0" stop-opacity="0"/><stop offset="0.5" stop-color="#70ead0" stop-opacity="0.55"/><stop offset="1" stop-color="#70ead0" stop-opacity="0"/></linearGradient>
<linearGradient id="g36" gradientUnits="userSpaceOnUse" x1="0.0" y1="184.0" x2="0.0" y2="229.7"><stop offset="0" stop-color="#6488b2" stop-opacity="1"/><stop offset="0.32" stop-color="#6a966c" stop-opacity="1"/><stop offset="0.62" stop-color="#62988c" stop-opacity="1"/><stop offset="1" stop-color="#5a9aa8" stop-opacity="1"/></linearGradient>
<linearGradient id="g37" gradientUnits="userSpaceOnUse" x1="0.0" y1="184.0" x2="0.0" y2="229.7"><stop offset="0" stop-color="#6488b2" stop-opacity="1"/><stop offset="0.32" stop-color="#6a966c" stop-opacity="1"/><stop offset="0.62" stop-color="#62988c" stop-opacity="1"/><stop offset="1" stop-color="#5a9aa8" stop-opacity="1"/></linearGradient>
<radialGradient id="g38" gradientUnits="userSpaceOnUse" cx="497.9" cy="213.0" r="27.0" gradientTransform="translate(497.9 213.0) scale(1 0.6) translate(-497.9 -213.0)"><stop offset="0" stop-color="#e8e048" stop-opacity="0.9"/><stop offset="0.4" stop-color="#c4e064" stop-opacity="0.6"/><stop offset="1" stop-color="#90d890" stop-opacity="0"/></radialGradient>
<linearGradient id="g39" gradientUnits="userSpaceOnUse" x1="0.0" y1="171.7" x2="0.0" y2="217.4"><stop offset="0" stop-color="#3a1a58" stop-opacity="1"/><stop offset="0.28" stop-color="#4a1e6e" stop-opacity="1"/><stop offset="0.38" stop-color="#5a2c6a" stop-opacity="1"/><stop offset="0.46" stop-color="#5c4848" stop-opacity="1"/><stop offset="0.54" stop-color="#686434" stop-opacity="1"/><stop offset="0.64" stop-color="#806c28" stop-opacity="1"/><stop offset="0.74" stop-color="#a0541c" stop-opacity="1"/><stop offset="0.84" stop-color="#c03412" stop-opacity="1"/><stop offset="0.93" stop-color="#a8200e" stop-opacity="1"/><stop offset="1" stop-color="#781a0c" stop-opacity="1"/></linearGradient>
<linearGradient id="g40" gradientUnits="userSpaceOnUse" x1="481.3" y1="0.0" x2="514.5" y2="0.0"><stop offset="0" stop-color="#3a3414" stop-opacity="0.5"/><stop offset="0.22" stop-color="#3a3414" stop-opacity="0.12"/><stop offset="0.5" stop-color="#3a3414" stop-opacity="0"/><stop offset="0.78" stop-color="#3a3414" stop-opacity="0.12"/><stop offset="1" stop-color="#3a3414" stop-opacity="0.5"/></linearGradient>
<linearGradient id="g41" gradientUnits="userSpaceOnUse" x1="0.0" y1="192.0" x2="0.0" y2="215.0"><stop offset="0" stop-color="#7a6a38" stop-opacity="0"/><stop offset="0.2" stop-color="#a07a2c" stop-opacity="0.7"/><stop offset="0.42" stop-color="#d0701c" stop-opacity="1"/><stop offset="0.62" stop-color="#f0420e" stop-opacity="1"/><stop offset="0.82" stop-color="#f82a0a" stop-opacity="1"/><stop offset="1" stop-color="#d81c0a" stop-opacity="1"/></linearGradient>
<radialGradient id="g42" gradientUnits="userSpaceOnUse" cx="553.7" cy="213.0" r="27.0" gradientTransform="translate(553.7 213.0) scale(1 0.6) translate(-553.7 -213.0)"><stop offset="0" stop-color="#e8e048" stop-opacity="0.9"/><stop offset="0.4" stop-color="#c4e064" stop-opacity="0.6"/><stop offset="1" stop-color="#90d890" stop-opacity="0"/></radialGradient>
<linearGradient id="g43" gradientUnits="userSpaceOnUse" x1="0.0" y1="171.7" x2="0.0" y2="217.4"><stop offset="0" stop-color="#3a1a58" stop-opacity="1"/><stop offset="0.28" stop-color="#4a1e6e" stop-opacity="1"/><stop offset="0.38" stop-color="#5a2c6a" stop-opacity="1"/><stop offset="0.46" stop-color="#5c4848" stop-opacity="1"/><stop offset="0.54" stop-color="#686434" stop-opacity="1"/><stop offset="0.64" stop-color="#806c28" stop-opacity="1"/><stop offset="0.74" stop-color="#a0541c" stop-opacity="1"/><stop offset="0.84" stop-color="#c03412" stop-opacity="1"/><stop offset="0.93" stop-color="#a8200e" stop-opacity="1"/><stop offset="1" stop-color="#781a0c" stop-opacity="1"/></linearGradient>
<linearGradient id="g44" gradientUnits="userSpaceOnUse" x1="537.1" y1="0.0" x2="570.3" y2="0.0"><stop offset="0" stop-color="#3a3414" stop-opacity="0.5"/><stop offset="0.22" stop-color="#3a3414" stop-opacity="0.12"/><stop offset="0.5" stop-color="#3a3414" stop-opacity="0"/><stop offset="0.78" stop-color="#3a3414" stop-opacity="0.12"/><stop offset="1" stop-color="#3a3414" stop-opacity="0.5"/></linearGradient>
<linearGradient id="g45" gradientUnits="userSpaceOnUse" x1="0.0" y1="192.0" x2="0.0" y2="215.0"><stop offset="0" stop-color="#7a6a38" stop-opacity="0"/><stop offset="0.2" stop-color="#a07a2c" stop-opacity="0.7"/><stop offset="0.42" stop-color="#d0701c" stop-opacity="1"/><stop offset="0.62" stop-color="#f0420e" stop-opacity="1"/><stop offset="0.82" stop-color="#f82a0a" stop-opacity="1"/><stop offset="1" stop-color="#d81c0a" stop-opacity="1"/></linearGradient>
<linearGradient id="g46" gradientUnits="userSpaceOnUse" x1="0.0" y1="154.7" x2="0.0" y2="184.0"><stop offset="0" stop-color="#5585e2" stop-opacity="1"/><stop offset="0.08" stop-color="#5b9fe0" stop-opacity="1"/><stop offset="0.22" stop-color="#5fc0cc" stop-opacity="1"/><stop offset="0.42" stop-color="#60c8b0" stop-opacity="1"/><stop offset="1" stop-color="#60c8a4" stop-opacity="1"/></linearGradient>
<radialGradient id="g47" gradientUnits="userSpaceOnUse" cx="525.6" cy="175.3" r="120.0" gradientTransform="translate(525.6 175.3) scale(1 0.16) translate(-525.6 -175.3)"><stop offset="0" stop-color="#62c486" stop-opacity="0.95"/><stop offset="0.6" stop-color="#62c48c" stop-opacity="0.7"/><stop offset="1" stop-color="#62c4a0" stop-opacity="0"/></radialGradient>
<linearGradient id="g48" gradientUnits="userSpaceOnUse" x1="398.6" y1="0.0" x2="424.6" y2="0.0"><stop offset="0" stop-color="#5a90e2" stop-opacity="0.8"/><stop offset="1" stop-color="#5fb0dc" stop-opacity="0"/></linearGradient>
<linearGradient id="g49" gradientUnits="userSpaceOnUse" x1="652.4" y1="0.0" x2="626.4" y2="0.0"><stop offset="0" stop-color="#5a90e2" stop-opacity="0.8"/><stop offset="1" stop-color="#5fb0dc" stop-opacity="0"/></linearGradient>
<linearGradient id="g50" gradientUnits="userSpaceOnUse" x1="0.0" y1="171.7" x2="0.0" y2="186.0"><stop offset="0" stop-color="#5c1426" stop-opacity="1"/><stop offset="0.5" stop-color="#4c1030" stop-opacity="1"/><stop offset="0.85" stop-color="#42184e" stop-opacity="1"/><stop offset="1" stop-color="#3c2468" stop-opacity="1"/></linearGradient>
<linearGradient id="g51" gradientUnits="userSpaceOnUse" x1="0.0" y1="171.7" x2="0.0" y2="186.0"><stop offset="0" stop-color="#5c1426" stop-opacity="1"/><stop offset="0.5" stop-color="#4c1030" stop-opacity="1"/><stop offset="0.85" stop-color="#42184e" stop-opacity="1"/><stop offset="1" stop-color="#3c2468" stop-opacity="1"/></linearGradient>
<clipPath id="c16"><polygon points="30.5,457.5 345.4,457.5 318.9,428.2 56.3,428.2"/></clipPath>
<clipPath id="c17"><polygon points="30.5,457.5 345.4,457.5 335.0,503.2 40.6,503.2"/></clipPath>
<clipPath id="c18"><polygon points="40.6,503.2 335.0,503.2 312.1,469.0 64.1,469.0"/></clipPath>
<linearGradient id="g52" gradientUnits="userSpaceOnUse" x1="50.1" y1="0.0" x2="104.1" y2="0.0"><stop offset="0" stop-color="#58cad6" stop-opacity="0.85"/><stop offset="0.4" stop-color="#5ccdc0" stop-opacity="0.45"/><stop offset="1" stop-color="#60c88e" stop-opacity="0"/></linearGradient>
<linearGradient id="g53" gradientUnits="userSpaceOnUse" x1="326.1" y1="0.0" x2="272.1" y2="0.0"><stop offset="0" stop-color="#58cad6" stop-opacity="0.85"/><stop offset="0.4" stop-color="#5ccdc0" stop-opacity="0.45"/><stop offset="1" stop-color="#60c88e" stop-opacity="0"/></linearGradient>
<linearGradient id="g54" gradientUnits="userSpaceOnUse" x1="0.0" y1="503.2" x2="0.0" y2="494.2"><stop offset="0" stop-color="#4a9fd6" stop-opacity="1"/><stop offset="0.3" stop-color="#55c4d6" stop-opacity="0.6"/><stop offset="1" stop-color="#5ccfc0" stop-opacity="0"/></linearGradient>
<linearGradient id="g55" gradientUnits="userSpaceOnUse" x1="0.0" y1="428.2" x2="0.0" y2="469.0"><stop offset="0" stop-color="#5a9be6" stop-opacity="1"/><stop offset="0.72" stop-color="#62d8ec" stop-opacity="1"/><stop offset="1" stop-color="#6ee6d2" stop-opacity="1"/></linearGradient>
<linearGradient id="g56" gradientUnits="userSpaceOnUse" x1="64.1" y1="0.0" x2="174.1" y2="0.0"><stop offset="0" stop-color="#52b0ee" stop-opacity="0.85"/><stop offset="0.5" stop-color="#5cc8ea" stop-opacity="0.4"/><stop offset="1" stop-color="#6ee6d6" stop-opacity="0"/></linearGradient>
<linearGradient id="g57" gradientUnits="userSpaceOnUse" x1="312.1" y1="0.0" x2="202.1" y2="0.0"><stop offset="0" stop-color="#52b0ee" stop-opacity="0.85"/><stop offset="0.5" stop-color="#5cc8ea" stop-opacity="0.4"/><stop offset="1" stop-color="#6ee6d6" stop-opacity="0"/></linearGradient>
<linearGradient id="g58" gradientUnits="userSpaceOnUse" x1="97.8" y1="0.0" x2="277.8" y2="0.0"><stop offset="0" stop-color="#70ead0" stop-opacity="0"/><stop offset="0.5" stop-color="#70ead0" stop-opacity="0.55"/><stop offset="1" stop-color="#70ead0" stop-opacity="0"/></linearGradient>
<linearGradient id="g59" gradientUnits="userSpaceOnUse" x1="0.0" y1="457.5" x2="0.0" y2="503.2"><stop offset="0" stop-color="#6488b2" stop-opacity="1"/><stop offset="0.32" stop-color="#6a966c" stop-opacity="1"/><stop offset="0.62" stop-color="#62988c" stop-opacity="1"/><stop offset="1" stop-color="#5a9aa8" stop-opacity="1"/></linearGradient>
<linearGradient id="g60" gradientUnits="userSpaceOnUse" x1="0.0" y1="457.5" x2="0.0" y2="503.2"><stop offset="0" stop-color="#6488b2" stop-opacity="1"/><stop offset="0.32" stop-color="#6a966c" stop-opacity="1"/><stop offset="0.62" stop-color="#62988c" stop-opacity="1"/><stop offset="1" stop-color="#5a9aa8" stop-opacity="1"/></linearGradient>
<radialGradient id="g61" gradientUnits="userSpaceOnUse" cx="135.4" cy="490.2" r="50.0" gradientTransform="translate(135.4 490.2) scale(1 0.42) translate(-135.4 -490.2)"><stop offset="0" stop-color="#e8e050" stop-opacity="0.9"/><stop offset="0.5" stop-color="#c0e070" stop-opacity="0.6"/><stop offset="1" stop-color="#90d890" stop-opacity="0"/></radialGradient>
<radialGradient id="g62" gradientUnits="userSpaceOnUse" cx="246.4" cy="480.2" r="24.0" gradientTransform="translate(246.4 480.2) scale(1 0.5) translate(-246.4 -480.2)"><stop offset="0" stop-color="#d8e060" stop-opacity="0.7"/><stop offset="1" stop-color="#90d890" stop-opacity="0"/></radialGradient>
<linearGradient id="g63" gradientUnits="userSpaceOnUse" x1="0.0" y1="452.2" x2="0.0" y2="493.2"><stop offset="0" stop-color="#b8a83c" stop-opacity="0.75"/><stop offset="0.25" stop-color="#d8b034" stop-opacity="0.9"/><stop offset="0.5" stop-color="#eca428" stop-opacity="0.95"/><stop offset="0.75" stop-color="#ee8a22" stop-opacity="0.95"/><stop offset="1" stop-color="#c88a2c" stop-opacity="0.9"/></linearGradient>
<radialGradient id="g64" gradientUnits="userSpaceOnUse" cx="120.8" cy="481.7" r="17.0" gradientTransform="translate(120.8 481.7) scale(1 0.6) translate(-120.8 -481.7)"><stop offset="0" stop-color="#fc1c06" stop-opacity="1"/><stop offset="0.5" stop-color="#f8300a" stop-opacity="0.95"/><stop offset="0.78" stop-color="#f26814" stop-opacity="0.6"/><stop offset="1" stop-color="#eaa020" stop-opacity="0"/></radialGradient>
<radialGradient id="g65" gradientUnits="userSpaceOnUse" cx="151.1" cy="481.7" r="17.0" gradientTransform="translate(151.1 481.7) scale(1 0.6) translate(-151.1 -481.7)"><stop offset="0" stop-color="#fc1c06" stop-opacity="1"/><stop offset="0.5" stop-color="#f8300a" stop-opacity="0.95"/><stop offset="0.78" stop-color="#f26814" stop-opacity="0.6"/><stop offset="1" stop-color="#eaa020" stop-opacity="0"/></radialGradient>
<linearGradient id="g66" gradientUnits="userSpaceOnUse" x1="0.0" y1="428.2" x2="0.0" y2="457.5"><stop offset="0" stop-color="#5585e2" stop-opacity="1"/><stop offset="0.08" stop-color="#5b9fe0" stop-opacity="1"/><stop offset="0.22" stop-color="#5fc0cc" stop-opacity="1"/><stop offset="0.42" stop-color="#60c8b0" stop-opacity="1"/><stop offset="1" stop-color="#60c8a4" stop-opacity="1"/></linearGradient>
<radialGradient id="g67" gradientUnits="userSpaceOnUse" cx="187.8" cy="448.9" r="120.0" gradientTransform="translate(187.8 448.9) scale(1 0.16) translate(-187.8 -448.9)"><stop offset="0" stop-color="#62c486" stop-opacity="0.95"/><stop offset="0.6" stop-color="#62c48c" stop-opacity="0.7"/><stop offset="1" stop-color="#62c4a0" stop-opacity="0"/></radialGradient>
<linearGradient id="g68" gradientUnits="userSpaceOnUse" x1="60.3" y1="0.0" x2="86.3" y2="0.0"><stop offset="0" stop-color="#5a90e2" stop-opacity="0.8"/><stop offset="1" stop-color="#5fb0dc" stop-opacity="0"/></linearGradient>
<linearGradient id="g69" gradientUnits="userSpaceOnUse" x1="314.9" y1="0.0" x2="288.9" y2="0.0"><stop offset="0" stop-color="#5a90e2" stop-opacity="0.8"/><stop offset="1" stop-color="#5fb0dc" stop-opacity="0"/></linearGradient>
<linearGradient id="g70" gradientUnits="userSpaceOnUse" x1="0.0" y1="446.2" x2="0.0" y2="458.2"><stop offset="0" stop-color="#b08a30" stop-opacity="0.0"/><stop offset="0.3" stop-color="#8a5c28" stop-opacity="0.85"/><stop offset="1" stop-color="#5a3a22" stop-opacity="0.92"/></linearGradient>
<linearGradient id="g71" gradientUnits="userSpaceOnUse" x1="356.5" y1="0.0" x2="380.0" y2="0.0"><stop offset="0" stop-color="#4a5496" stop-opacity="1"/><stop offset="1" stop-color="#60dcba" stop-opacity="1"/></linearGradient>
<linearGradient id="g72" gradientUnits="userSpaceOnUse" x1="521.5" y1="0.0" x2="545.0" y2="0.0"><stop offset="0" stop-color="#4696be" stop-opacity="1"/><stop offset="1" stop-color="#62d4ee" stop-opacity="1"/></linearGradient>
<linearGradient id="g73" gradientUnits="userSpaceOnUse" x1="356.5" y1="0.0" x2="380.0" y2="0.0"><stop offset="0" stop-color="#50c88c" stop-opacity="1"/><stop offset="1" stop-color="#6af6a6" stop-opacity="1"/></linearGradient>
<linearGradient id="g74" gradientUnits="userSpaceOnUse" x1="521.5" y1="0.0" x2="545.0" y2="0.0"><stop offset="0" stop-color="#5aecd0" stop-opacity="1"/><stop offset="1" stop-color="#5aecd0" stop-opacity="1"/></linearGradient>
<linearGradient id="g75" gradientUnits="userSpaceOnUse" x1="356.5" y1="0.0" x2="380.0" y2="0.0"><stop offset="0" stop-color="#f0af00" stop-opacity="1"/><stop offset="1" stop-color="#f0af00" stop-opacity="1"/></linearGradient>
<linearGradient id="g76" gradientUnits="userSpaceOnUse" x1="521.5" y1="0.0" x2="545.0" y2="0.0"><stop offset="0" stop-color="#6e7a1e" stop-opacity="1"/><stop offset="1" stop-color="#8c5020" stop-opacity="1"/></linearGradient>
<linearGradient id="g77" gradientUnits="userSpaceOnUse" x1="356.5" y1="0.0" x2="380.0" y2="0.0"><stop offset="0" stop-color="#ec000a" stop-opacity="1"/><stop offset="1" stop-color="#ec000a" stop-opacity="1"/></linearGradient>
<linearGradient id="g78" gradientUnits="userSpaceOnUse" x1="521.5" y1="0.0" x2="545.0" y2="0.0"><stop offset="0" stop-color="#465a14" stop-opacity="1"/><stop offset="1" stop-color="#e61e0a" stop-opacity="1"/></linearGradient>
</defs>
<rect width="685" height="592" fill="#fff"/>
<polygon points="37.7,93.7 329.2,93.7 306.5,58.0 61.0,58.0" fill="#5bc98d" />
<polygon points="53.3,18.7 313.3,18.7 306.5,58.0 61.0,58.0" fill="#63f0a2" />
<polygon points="27.7,48.0 53.3,18.7 61.0,58.0 37.7,93.7" fill="#579a76" />
<polygon points="339.5,48.0 313.3,18.7 306.5,58.0 329.2,93.7" fill="#579a76" />
<path d="M61.0 58.0 L306.5 58.0" stroke="#4fae7c" stroke-width="0.6"/>
<g clip-path="url(#c3)">
<g fill="url(#g1)" stroke="url(#g1)" stroke-width="1.8" stroke-linejoin="round">
<polygon points="177.4,61.3 178.3,30.1 188.6,30.1 189.7,61.3 189.6,64.3 177.5,64.3"/>
<polygon points="174.4,64.0 175.8,32.5 191.1,32.5 192.7,64.0 192.6,67.0 174.4,67.0"/>
<polygon points="171.4,66.7 173.3,34.8 193.7,34.8 195.7,66.7 195.6,69.6 171.4,69.6"/>
<polygon points="168.4,69.4 170.8,37.1 196.2,37.1 198.7,69.4 198.6,72.3 168.5,72.3"/>
<polygon points="168.5,72.1 170.9,39.4 196.2,39.4 198.6,72.1 198.5,75.0 168.5,75.0"/>
<polygon points="168.5,74.8 171.0,41.7 196.1,41.7 198.5,74.8 198.4,77.7 168.6,77.7"/>
<polygon points="168.6,77.4 171.1,44.0 196.1,44.0 198.4,77.4 198.4,80.4 168.6,80.4"/>
<polygon points="171.6,80.1 173.6,46.3 193.6,46.3 195.4,80.1 195.3,83.1 171.6,83.1"/>
<polygon points="174.6,82.8 176.2,48.6 191.1,48.6 192.4,82.8 192.3,85.8 174.6,85.8"/>
<polygon points="177.6,85.5 178.7,51.0 188.6,51.0 189.4,85.5 189.3,88.5 177.6,88.5"/>
</g>
<path d="M177.4 61.4 L178.3 30.3 M189.7 61.4 L188.5 30.3 M174.4 64.1 L175.8 32.6 M192.7 64.1 L191.1 32.6 M171.4 66.8 L173.3 34.9 M195.7 66.8 L193.6 34.9 M168.4 69.5 L170.9 37.2 M198.6 69.5 L196.2 37.2 M168.5 72.2 L170.9 39.5 M198.6 72.2 L196.2 39.5" stroke="#0f6e3a" stroke-width="0.9" stroke-opacity="0.75" fill="none"/>
</g>
<g clip-path="url(#c1)">
<polygon points="27.7,48.0 339.5,48.0 313.3,18.7 53.3,18.7" fill="#57c8a8" />
<polygon points="53.3,18.7 313.3,18.7 312.8,21.3 53.8,21.3" fill="#4a56d2" />
<polygon points="27.7,48.0 53.3,18.7 61.0,58.0 37.7,93.7" fill="#585b82" />
<polygon points="339.5,48.0 313.3,18.7 306.5,58.0 329.2,93.7" fill="#585b82" />
<g fill="#14494f" stroke="#14494f" stroke-width="2.2" stroke-linejoin="round">
<polygon points="177.4,61.3 178.3,30.1 188.6,30.1 189.7,61.3 189.6,64.3 177.5,64.3"/>
<polygon points="174.4,64.0 175.8,32.5 191.1,32.5 192.7,64.0 192.6,67.0 174.4,67.0"/>
<polygon points="171.4,66.7 173.3,34.8 193.7,34.8 195.7,66.7 195.6,69.6 171.4,69.6"/>
<polygon points="168.4,69.4 170.8,37.1 196.2,37.1 198.7,69.4 198.6,72.3 168.5,72.3"/>
<polygon points="168.5,72.1 170.9,39.4 196.2,39.4 198.6,72.1 198.5,75.0 168.5,75.0"/>
<polygon points="168.5,74.8 171.0,41.7 196.1,41.7 198.5,74.8 198.4,77.7 168.6,77.7"/>
<polygon points="168.6,77.4 171.1,44.0 196.1,44.0 198.4,77.4 198.4,80.4 168.6,80.4"/>
<polygon points="171.6,80.1 173.6,46.3 193.6,46.3 195.4,80.1 195.3,83.1 171.6,83.1"/>
<polygon points="174.6,82.8 176.2,48.6 191.1,48.6 192.4,82.8 192.3,85.8 174.6,85.8"/>
<polygon points="177.6,85.5 178.7,51.0 188.6,51.0 189.4,85.5 189.3,88.5 177.6,88.5"/>
</g>
</g>
<g clip-path="url(#c2)">
<polygon points="27.7,48.0 339.5,48.0 338.8,51.0 28.4,51.0" fill="#5ec8c4" />
<polygon points="27.7,48.0 53.3,18.7 61.0,58.0 37.7,93.7" fill="#5a62b4" />
<polygon points="339.5,48.0 313.3,18.7 306.5,58.0 329.2,93.7" fill="#5a62b4" />
<g fill="#17338c" stroke="#17338c" stroke-width="1.8" stroke-linejoin="round">
<polygon points="177.4,61.3 178.3,30.1 188.6,30.1 189.7,61.3 189.6,64.3 177.5,64.3"/>
<polygon points="174.4,64.0 175.8,32.5 191.1,32.5 192.7,64.0 192.6,67.0 174.4,67.0"/>
<polygon points="171.4,66.7 173.3,34.8 193.7,34.8 195.7,66.7 195.6,69.6 171.4,69.6"/>
<polygon points="168.4,69.4 170.8,37.1 196.2,37.1 198.7,69.4 198.6,72.3 168.5,72.3"/>
<polygon points="168.5,72.1 170.9,39.4 196.2,39.4 198.6,72.1 198.5,75.0 168.5,75.0"/>
<polygon points="168.5,74.8 171.0,41.7 196.1,41.7 198.5,74.8 198.4,77.7 168.6,77.7"/>
<polygon points="168.6,77.4 171.1,44.0 196.1,44.0 198.4,77.4 198.4,80.4 168.6,80.4"/>
<polygon points="171.6,80.1 173.6,46.3 193.6,46.3 195.4,80.1 195.3,83.1 171.6,83.1"/>
<polygon points="174.6,82.8 176.2,48.6 191.1,48.6 192.4,82.8 192.3,85.8 174.6,85.8"/>
<polygon points="177.6,85.5 178.7,51.0 188.6,51.0 189.4,85.5 189.3,88.5 177.6,88.5"/>
</g>
</g>
<g fill="#ee0202" stroke="#ee0202" stroke-width="0.5">
<polygon points="189.7,61.4 189.6,64.1 192.7,64.1 192.6,66.8 195.7,66.8 195.6,69.5 198.6,69.5 198.6,72.2 198.6,72.2 198.5,74.9 198.5,74.9 198.4,77.6 198.4,77.6 198.4,80.3 195.4,80.3 195.3,82.9 192.4,82.9 192.3,85.6 189.4,85.6 189.3,88.3 177.6,88.3 177.6,85.6 174.6,85.6 174.6,82.9 171.6,82.9 171.6,80.3 168.6,80.3 168.6,77.6 168.6,77.6 168.5,74.9 168.5,74.9 168.5,72.2 168.5,72.2 168.4,69.5 171.4,69.5 171.4,66.8 174.4,66.8 174.4,64.1 177.5,64.1 177.4,61.4"/>
</g>
<path d="M27.7 48.0 L37.7 93.7 L329.2 93.7 L339.5 48.0" stroke="#2f5a48" stroke-opacity="0.8" stroke-width="0.8" fill="none"/>
<path d="M27.3 48.0 L37.3 93.7 M339.9 48.0 L329.6 93.7" stroke="#1c2622" stroke-opacity="0.85" stroke-width="0.9" fill="none"/>
<path d="M37.7 93.7 L61.0 58.0 M329.2 93.7 L306.5 58.0" stroke="#3e6a58" stroke-opacity="0.6" stroke-width="0.6" fill="none"/>
<path d="M27.7 48.0 L339.5 48.0 L313.3 18.7 L53.3 18.7 Z" stroke="#3a3f8a" stroke-opacity="0.7" stroke-width="0.7" fill="none"/>
<path d="M27.1 48.0 L52.7 18.7 M340.1 48.0 L313.9 18.7" stroke="#1a1a2a" stroke-opacity="0.75" stroke-width="0.8" fill="none"/>
<use href="#el_syn" filter="url(#bl04)" transform="translate(183.60 0.00) scale(1.0000 1) translate(-183.60 0)"/>
<polygon points="379.1,93.7 672.3,93.7 649.5,58.0 402.5,58.0" fill="#5bc98d" />
<polygon points="394.8,18.7 656.3,18.7 649.5,58.0 402.5,58.0" fill="#63f0a2" />
<polygon points="369.0,48.0 394.8,18.7 402.5,58.0 379.1,93.7" fill="#579a76" />
<polygon points="682.7,48.0 656.3,18.7 649.5,58.0 672.3,93.7" fill="#579a76" />
<path d="M402.5 58.0 L649.5 58.0" stroke="#4fae7c" stroke-width="0.6"/>
<g clip-path="url(#c6)">
<g fill="url(#g2)" stroke="url(#g2)" stroke-width="1.8" stroke-linejoin="round">
<polygon points="488.9,61.3 494.8,30.1 505.1,30.1 505.2,32.7 501.3,64.3 489.0,64.3"/>
<polygon points="485.9,64.0 492.4,32.5 507.8,32.5 507.9,35.0 504.4,67.0 486.1,67.0"/>
<polygon points="483.0,66.7 489.9,34.8 510.4,34.8 510.5,37.3 507.5,69.6 483.2,69.6"/>
<polygon points="480.2,69.4 487.6,37.1 513.0,37.1 513.1,39.6 510.6,72.3 480.4,72.3"/>
<polygon points="480.3,72.1 487.7,39.4 513.1,39.4 513.2,41.9 510.7,75.0 480.5,75.0"/>
<polygon points="480.5,74.8 487.9,41.7 513.2,41.7 513.2,44.2 510.7,77.7 480.7,77.7"/>
<polygon points="480.7,77.4 488.0,44.0 513.2,44.0 513.3,46.6 510.8,80.4 480.9,80.4"/>
<polygon points="483.8,80.1 490.7,46.3 510.8,46.3 510.9,48.9 507.9,83.1 484.0,83.1"/>
<polygon points="487.0,82.8 493.3,48.6 508.4,48.6 508.5,51.2 504.9,85.8 487.1,85.8"/>
<polygon points="490.1,85.5 496.0,51.0 505.9,51.0 506.1,53.5 502.1,88.5 490.2,88.5"/>
</g>
<g fill="url(#g3)" stroke="url(#g3)" stroke-width="1.8" stroke-linejoin="round">
<polygon points="546.2,32.7 546.3,30.1 556.6,30.1 562.7,61.3 562.6,64.3 550.3,64.3"/>
<polygon points="543.6,35.0 543.7,32.5 559.0,32.5 565.6,64.0 565.5,67.0 547.1,67.0"/>
<polygon points="541.0,37.3 541.1,34.8 561.5,34.8 568.5,66.7 568.3,69.6 544.0,69.6"/>
<polygon points="538.5,39.6 538.5,37.1 564.0,37.1 571.4,69.4 571.2,72.3 540.9,72.3"/>
<polygon points="538.5,41.9 538.5,39.4 563.9,39.4 571.2,72.1 571.0,75.0 540.8,75.0"/>
<polygon points="538.5,44.2 538.5,41.7 563.8,41.7 571.0,74.8 570.8,77.7 540.8,77.7"/>
<polygon points="538.4,46.6 538.5,44.0 563.7,44.0 570.8,77.4 570.6,80.4 540.7,80.4"/>
<polygon points="540.9,48.9 540.9,46.3 561.0,46.3 567.6,80.1 567.5,83.1 543.6,83.1"/>
<polygon points="543.4,51.2 543.4,48.6 558.5,48.6 564.5,82.8 564.3,85.8 546.5,85.8"/>
<polygon points="545.8,53.5 545.9,51.0 555.9,51.0 561.4,85.5 561.2,88.5 549.4,88.5"/>
</g>
<path d="M488.9 61.4 L494.8 30.3 M501.2 61.4 L505.1 30.3 M486.0 64.1 L492.4 32.6 M504.3 64.1 L507.8 32.6 M483.1 66.8 L490.0 34.9 M507.5 66.8 L510.4 34.9 M480.2 69.5 L487.6 37.2 M510.6 69.5 L513.0 37.2 M480.3 72.2 L487.7 39.5 M510.6 72.2 L513.1 39.5" stroke="#0f6e3a" stroke-width="0.9" stroke-opacity="0.75" fill="none"/>
<path d="M550.4 61.4 L546.3 30.3 M562.7 61.4 L556.6 30.3 M547.2 64.1 L543.7 32.6 M565.6 64.1 L559.0 32.6 M544.1 66.8 L541.1 34.9 M568.5 66.8 L561.5 34.9 M541.0 69.5 L538.5 37.2 M571.4 69.5 L564.0 37.2 M540.9 72.2 L538.5 39.5 M571.2 72.2 L563.9 39.5" stroke="#0f6e3a" stroke-width="0.9" stroke-opacity="0.75" fill="none"/>
</g>
<g clip-path="url(#c4)">
<polygon points="369.0,48.0 682.7,48.0 656.3,18.7 394.8,18.7" fill="#57c8a8" />
<polygon points="394.8,18.7 656.3,18.7 655.8,21.3 395.3,21.3" fill="#4a56d2" />
<polygon points="369.0,48.0 394.8,18.7 402.5,58.0 379.1,93.7" fill="#585b82" />
<polygon points="682.7,48.0 656.3,18.7 649.5,58.0 672.3,93.7" fill="#585b82" />
<g fill="#14494f" stroke="#14494f" stroke-width="2.2" stroke-linejoin="round">
<polygon points="488.9,61.3 494.8,30.1 505.1,30.1 505.2,32.7 501.3,64.3 489.0,64.3"/>
<polygon points="485.9,64.0 492.4,32.5 507.8,32.5 507.9,35.0 504.4,67.0 486.1,67.0"/>
<polygon points="483.0,66.7 489.9,34.8 510.4,34.8 510.5,37.3 507.5,69.6 483.2,69.6"/>
<polygon points="480.2,69.4 487.6,37.1 513.0,37.1 513.1,39.6 510.6,72.3 480.4,72.3"/>
<polygon points="480.3,72.1 487.7,39.4 513.1,39.4 513.2,41.9 510.7,75.0 480.5,75.0"/>
<polygon points="480.5,74.8 487.9,41.7 513.2,41.7 513.2,44.2 510.7,77.7 480.7,77.7"/>
<polygon points="480.7,77.4 488.0,44.0 513.2,44.0 513.3,46.6 510.8,80.4 480.9,80.4"/>
<polygon points="483.8,80.1 490.7,46.3 510.8,46.3 510.9,48.9 507.9,83.1 484.0,83.1"/>
<polygon points="487.0,82.8 493.3,48.6 508.4,48.6 508.5,51.2 504.9,85.8 487.1,85.8"/>
<polygon points="490.1,85.5 496.0,51.0 505.9,51.0 506.1,53.5 502.1,88.5 490.2,88.5"/>
</g>
<g fill="#14494f" stroke="#14494f" stroke-width="2.2" stroke-linejoin="round">
<polygon points="546.2,32.7 546.3,30.1 556.6,30.1 562.7,61.3 562.6,64.3 550.3,64.3"/>
<polygon points="543.6,35.0 543.7,32.5 559.0,32.5 565.6,64.0 565.5,67.0 547.1,67.0"/>
<polygon points="541.0,37.3 541.1,34.8 561.5,34.8 568.5,66.7 568.3,69.6 544.0,69.6"/>
<polygon points="538.5,39.6 538.5,37.1 564.0,37.1 571.4,69.4 571.2,72.3 540.9,72.3"/>
<polygon points="538.5,41.9 538.5,39.4 563.9,39.4 571.2,72.1 571.0,75.0 540.8,75.0"/>
<polygon points="538.5,44.2 538.5,41.7 563.8,41.7 571.0,74.8 570.8,77.7 540.8,77.7"/>
<polygon points="538.4,46.6 538.5,44.0 563.7,44.0 570.8,77.4 570.6,80.4 540.7,80.4"/>
<polygon points="540.9,48.9 540.9,46.3 561.0,46.3 567.6,80.1 567.5,83.1 543.6,83.1"/>
<polygon points="543.4,51.2 543.4,48.6 558.5,48.6 564.5,82.8 564.3,85.8 546.5,85.8"/>
<polygon points="545.8,53.5 545.9,51.0 555.9,51.0 561.4,85.5 561.2,88.5 549.4,88.5"/>
</g>
</g>
<g clip-path="url(#c5)">
<polygon points="369.0,48.0 682.7,48.0 682.0,51.0 369.7,51.0" fill="#5ec8c4" />
<polygon points="369.0,48.0 394.8,18.7 402.5,58.0 379.1,93.7" fill="#5a62b4" />
<polygon points="682.7,48.0 656.3,18.7 649.5,58.0 672.3,93.7" fill="#5a62b4" />
<g fill="#17338c" stroke="#17338c" stroke-width="1.8" stroke-linejoin="round">
<polygon points="488.9,61.3 494.8,30.1 505.1,30.1 505.2,32.7 501.3,64.3 489.0,64.3"/>
<polygon points="485.9,64.0 492.4,32.5 507.8,32.5 507.9,35.0 504.4,67.0 486.1,67.0"/>
<polygon points="483.0,66.7 489.9,34.8 510.4,34.8 510.5,37.3 507.5,69.6 483.2,69.6"/>
<polygon points="480.2,69.4 487.6,37.1 513.0,37.1 513.1,39.6 510.6,72.3 480.4,72.3"/>
<polygon points="480.3,72.1 487.7,39.4 513.1,39.4 513.2,41.9 510.7,75.0 480.5,75.0"/>
<polygon points="480.5,74.8 487.9,41.7 513.2,41.7 513.2,44.2 510.7,77.7 480.7,77.7"/>
<polygon points="480.7,77.4 488.0,44.0 513.2,44.0 513.3,46.6 510.8,80.4 480.9,80.4"/>
<polygon points="483.8,80.1 490.7,46.3 510.8,46.3 510.9,48.9 507.9,83.1 484.0,83.1"/>
<polygon points="487.0,82.8 493.3,48.6 508.4,48.6 508.5,51.2 504.9,85.8 487.1,85.8"/>
<polygon points="490.1,85.5 496.0,51.0 505.9,51.0 506.1,53.5 502.1,88.5 490.2,88.5"/>
</g>
<g fill="#17338c" stroke="#17338c" stroke-width="1.8" stroke-linejoin="round">
<polygon points="546.2,32.7 546.3,30.1 556.6,30.1 562.7,61.3 562.6,64.3 550.3,64.3"/>
<polygon points="543.6,35.0 543.7,32.5 559.0,32.5 565.6,64.0 565.5,67.0 547.1,67.0"/>
<polygon points="541.0,37.3 541.1,34.8 561.5,34.8 568.5,66.7 568.3,69.6 544.0,69.6"/>
<polygon points="538.5,39.6 538.5,37.1 564.0,37.1 571.4,69.4 571.2,72.3 540.9,72.3"/>
<polygon points="538.5,41.9 538.5,39.4 563.9,39.4 571.2,72.1 571.0,75.0 540.8,75.0"/>
<polygon points="538.5,44.2 538.5,41.7 563.8,41.7 571.0,74.8 570.8,77.7 540.8,77.7"/>
<polygon points="538.4,46.6 538.5,44.0 563.7,44.0 570.8,77.4 570.6,80.4 540.7,80.4"/>
<polygon points="540.9,48.9 540.9,46.3 561.0,46.3 567.6,80.1 567.5,83.1 543.6,83.1"/>
<polygon points="543.4,51.2 543.4,48.6 558.5,48.6 564.5,82.8 564.3,85.8 546.5,85.8"/>
<polygon points="545.8,53.5 545.9,51.0 555.9,51.0 561.4,85.5 561.2,88.5 549.4,88.5"/>
</g>
</g>
<g fill="#ee0202" stroke="#ee0202" stroke-width="0.5">
<polygon points="501.2,61.4 501.3,64.1 504.3,64.1 504.4,66.8 507.5,66.8 507.5,69.5 510.6,69.5 510.6,72.2 510.6,72.2 510.7,74.9 510.7,74.9 510.7,77.6 510.7,77.6 510.8,80.3 507.8,80.3 507.9,82.9 504.9,82.9 504.9,85.6 502.0,85.6 502.1,88.3 490.2,88.3 490.1,85.6 487.1,85.6 487.0,82.9 484.0,82.9 483.8,80.3 480.9,80.3 480.7,77.6 480.7,77.6 480.5,74.9 480.5,74.9 480.3,72.2 480.3,72.2 480.2,69.5 483.2,69.5 483.1,66.8 486.1,66.8 486.0,64.1 489.0,64.1 488.9,61.4"/>
</g>
<g fill="#ee0202" stroke="#ee0202" stroke-width="0.5">
<polygon points="562.7,61.4 562.6,64.1 565.6,64.1 565.5,66.8 568.5,66.8 568.3,69.5 571.4,69.5 571.2,72.2 571.2,72.2 571.0,74.9 571.0,74.9 570.8,77.6 570.8,77.6 570.6,80.3 567.6,80.3 567.5,82.9 564.5,82.9 564.3,85.6 561.3,85.6 561.2,88.3 549.4,88.3 549.5,85.6 546.5,85.6 546.6,82.9 543.6,82.9 543.7,80.3 540.7,80.3 540.8,77.6 540.8,77.6 540.8,74.9 540.8,74.9 540.9,72.2 540.9,72.2 541.0,69.5 544.0,69.5 544.1,66.8 547.2,66.8 547.2,64.1 550.3,64.1 550.4,61.4"/>
</g>
<path d="M369.0 48.0 L379.1 93.7 L672.3 93.7 L682.7 48.0" stroke="#2f5a48" stroke-opacity="0.8" stroke-width="0.8" fill="none"/>
<path d="M368.6 48.0 L378.7 93.7 M683.1 48.0 L672.7 93.7" stroke="#1c2622" stroke-opacity="0.85" stroke-width="0.9" fill="none"/>
<path d="M379.1 93.7 L402.5 58.0 M672.3 93.7 L649.5 58.0" stroke="#3e6a58" stroke-opacity="0.6" stroke-width="0.6" fill="none"/>
<path d="M369.0 48.0 L682.7 48.0 L656.3 18.7 L394.8 18.7 Z" stroke="#3a3f8a" stroke-opacity="0.7" stroke-width="0.7" fill="none"/>
<path d="M368.4 48.0 L394.2 18.7 M683.3 48.0 L656.9 18.7" stroke="#1a1a2a" stroke-opacity="0.75" stroke-width="0.8" fill="none"/>
<use href="#el_syn" filter="url(#bl04)" transform="translate(525.85 0.00) scale(1.0060 1) translate(-183.60 0)"/>
<polygon points="40.6,369.7 335.0,369.7 312.1,334.0 64.1,334.0" fill="#5bc98d" />
<polygon points="56.3,294.7 318.9,294.7 312.1,334.0 64.1,334.0" fill="#63f0a2" />
<polygon points="30.5,324.0 56.3,294.7 64.1,334.0 40.6,369.7" fill="#579a76" />
<polygon points="345.4,324.0 318.9,294.7 312.1,334.0 335.0,369.7" fill="#579a76" />
<path d="M64.1 334.0 L312.1 334.0" stroke="#4fae7c" stroke-width="0.6"/>
<g clip-path="url(#c9)">
<g fill="url(#g4)" stroke="url(#g4)" stroke-width="1.8" stroke-linejoin="round">
<polygon points="110.7,337.3 123.2,306.1 133.5,306.1 133.8,308.7 123.3,340.3 111.0,340.3"/>
<polygon points="107.9,340.0 120.9,308.4 136.3,308.4 136.5,311.0 126.6,342.9 108.2,342.9"/>
<polygon points="105.1,342.7 118.5,310.8 139.1,310.8 139.3,313.3 129.9,345.6 105.5,345.6"/>
<polygon points="102.4,345.4 116.2,313.1 141.8,313.1 142.0,315.6 133.2,348.3 102.8,348.3"/>
<polygon points="102.7,348.1 116.5,315.4 142.0,315.4 142.2,317.9 133.4,351.0 103.1,351.0"/>
<polygon points="103.0,350.8 116.8,317.7 142.2,317.7 142.4,320.2 133.6,353.7 103.4,353.7"/>
<polygon points="103.4,353.4 117.0,320.0 142.4,320.0 142.6,322.6 133.8,356.4 103.7,356.4"/>
<polygon points="106.7,356.1 119.8,322.3 140.0,322.3 140.2,324.9 131.0,359.1 107.1,359.1"/>
<polygon points="110.0,358.8 122.6,324.6 137.7,324.6 137.9,327.2 128.2,361.8 110.3,361.8"/>
<polygon points="113.3,361.5 125.4,326.9 135.4,326.9 135.6,329.5 125.5,364.5 113.6,364.5"/>
</g>
<g fill="url(#g5)" stroke="url(#g5)" stroke-width="1.8" stroke-linejoin="round">
<polygon points="142.0,337.3 149.4,306.1 159.8,306.1 159.9,308.7 154.5,340.3 142.2,340.3"/>
<polygon points="139.1,340.0 147.0,308.4 162.4,308.4 162.6,311.0 157.7,342.9 139.3,342.9"/>
<polygon points="136.2,342.7 144.6,310.8 165.1,310.8 165.2,313.3 160.9,345.6 136.4,345.6"/>
<polygon points="133.4,345.4 142.2,313.1 167.8,313.1 167.9,315.6 164.0,348.3 133.6,348.3"/>
<polygon points="133.6,348.1 142.4,315.4 167.9,315.4 168.0,317.9 164.1,351.0 133.8,351.0"/>
<polygon points="133.8,350.8 142.6,317.7 168.0,317.7 168.1,320.2 164.2,353.7 134.0,353.7"/>
<polygon points="134.0,353.4 142.8,320.0 168.1,320.0 168.2,322.6 164.3,356.4 134.2,356.4"/>
<polygon points="137.2,356.1 145.4,322.3 165.6,322.3 165.8,324.9 161.4,359.1 137.4,359.1"/>
<polygon points="140.4,358.8 148.1,324.6 163.2,324.6 163.3,327.2 158.5,361.8 140.6,361.8"/>
<polygon points="143.6,361.5 150.8,326.9 160.8,326.9 161.0,329.5 155.6,364.5 143.8,364.5"/>
</g>
<g fill="url(#g6)" stroke="url(#g6)" stroke-width="1.8" stroke-linejoin="round">
<polygon points="167.4,345.9 170.7,313.5 179.9,313.5 180.0,316.3 178.4,349.1 167.5,349.1"/>
<polygon points="164.2,348.9 168.0,316.1 183.3,316.1 183.4,320.2 182.4,353.7 164.3,353.7"/>
<polygon points="167.6,353.4 171.0,320.0 180.1,320.0 180.2,323.7 178.5,357.7 167.8,357.7"/>
</g>
<g fill="url(#g7)" stroke="url(#g7)" stroke-width="1.8" stroke-linejoin="round">
<polygon points="182.1,345.9 183.0,313.5 193.0,313.5 194.0,345.9 193.9,349.1 182.1,349.1"/>
<polygon points="182.1,348.9 183.1,316.1 193.0,316.1 193.9,348.9 193.9,353.7 182.1,353.7"/>
<polygon points="182.1,353.4 183.1,320.0 193.0,320.0 193.9,353.4 193.8,357.7 182.1,357.7"/>
</g>
<g fill="url(#g8)" stroke="url(#g8)" stroke-width="1.8" stroke-linejoin="round">
<polygon points="193.0,316.2 207.0,316.2 210.6,349.0 210.5,353.4 193.9,353.4 193.0,320.0"/>
</g>
<g fill="url(#g9)" stroke="url(#g9)" stroke-width="1.8" stroke-linejoin="round">
<polygon points="246.9,316.3 247.2,313.5 254.8,313.5 267.8,345.9 267.4,349.1 258.3,349.1"/>
<polygon points="244.9,320.2 245.2,316.1 256.9,316.1 270.2,348.9 269.6,353.7 255.7,353.7"/>
<polygon points="246.4,323.7 246.7,320.0 254.3,320.0 266.9,353.4 266.4,357.7 257.4,357.7"/>
</g>
<g fill="url(#g10)" stroke="url(#g10)" stroke-width="1.8" stroke-linejoin="round">
<polygon points="234.2,316.3 234.4,313.5 243.1,313.5 253.8,345.9 253.4,349.1 243.1,349.1"/>
<polygon points="231.7,320.2 231.9,316.1 245.2,316.1 256.2,348.9 255.7,353.7 240.0,353.7"/>
<polygon points="233.8,323.7 234.0,320.0 242.6,320.0 253.0,353.4 252.6,357.7 242.4,357.7"/>
</g>
<path d="M110.7 337.4 L123.2 306.3 M123.0 337.4 L133.5 306.3 M107.9 340.1 L120.9 308.6 M126.4 340.1 L136.3 308.6 M105.1 342.8 L118.6 310.9 M129.7 342.8 L139.1 310.9 M102.4 345.5 L116.3 313.2 M132.9 345.5 L141.8 313.2 M102.7 348.2 L116.5 315.5 M133.1 348.2 L142.0 315.5" stroke="#0f6e3a" stroke-width="0.9" stroke-opacity="0.75" fill="none"/>
<path d="M142.0 337.4 L149.4 306.3 M154.4 337.4 L159.8 306.3 M139.1 340.1 L147.0 308.6 M157.6 340.1 L162.5 308.6 M136.2 342.8 L144.6 310.9 M160.8 342.8 L165.1 310.9 M133.4 345.5 L142.2 313.2 M163.9 345.5 L167.8 313.2 M133.6 348.2 L142.4 315.5 M164.0 348.2 L167.9 315.5" stroke="#0f6e3a" stroke-width="0.9" stroke-opacity="0.75" fill="none"/>
<path d="M167.4 346.0 L170.7 313.7 M178.4 346.0 L179.9 313.7 M164.2 349.0 L168.0 316.2 M182.4 349.0 L183.3 316.2" stroke="#0f6e3a" stroke-width="0.9" stroke-opacity="0.75" fill="none"/>
<path d="M182.1 346.0 L183.0 313.7 M194.0 346.0 L193.0 313.7 M182.1 349.0 L183.1 316.2 M193.9 349.0 L193.0 316.2" stroke="#0f6e3a" stroke-width="0.9" stroke-opacity="0.75" fill="none"/>
<path d="M193.9 349.1 L193.0 316.3 M210.6 349.1 L207.0 316.3" stroke="#0f6e3a" stroke-width="0.9" stroke-opacity="0.75" fill="none"/>
<path d="M258.6 346.0 L247.2 313.7 M267.8 346.0 L254.8 313.7 M256.2 349.0 L245.2 316.2 M270.2 349.0 L256.9 316.2" stroke="#3f7a25" stroke-width="0.9" stroke-opacity="0.75" fill="none"/>
<path d="M243.4 346.0 L234.4 313.7 M253.8 346.0 L243.1 313.7 M240.4 349.0 L231.9 316.2 M256.2 349.0 L245.2 316.2" stroke="#0f6e3a" stroke-width="0.9" stroke-opacity="0.75" fill="none"/>
</g>
<g clip-path="url(#c7)">
<polygon points="30.5,324.0 345.4,324.0 318.9,294.7 56.3,294.7" fill="#57c8a8" />
<polygon points="56.3,294.7 318.9,294.7 318.4,297.3 56.8,297.3" fill="#4a56d2" />
<polygon points="30.5,324.0 56.3,294.7 64.1,334.0 40.6,369.7" fill="#585b82" />
<polygon points="345.4,324.0 318.9,294.7 312.1,334.0 335.0,369.7" fill="#585b82" />
<g fill="#14494f" stroke="#14494f" stroke-width="2.2" stroke-linejoin="round">
<polygon points="110.7,337.3 123.2,306.1 133.5,306.1 133.8,308.7 123.3,340.3 111.0,340.3"/>
<polygon points="107.9,340.0 120.9,308.4 136.3,308.4 136.5,311.0 126.6,342.9 108.2,342.9"/>
<polygon points="105.1,342.7 118.5,310.8 139.1,310.8 139.3,313.3 129.9,345.6 105.5,345.6"/>
<polygon points="102.4,345.4 116.2,313.1 141.8,313.1 142.0,315.6 133.2,348.3 102.8,348.3"/>
<polygon points="102.7,348.1 116.5,315.4 142.0,315.4 142.2,317.9 133.4,351.0 103.1,351.0"/>
<polygon points="103.0,350.8 116.8,317.7 142.2,317.7 142.4,320.2 133.6,353.7 103.4,353.7"/>
<polygon points="103.4,353.4 117.0,320.0 142.4,320.0 142.6,322.6 133.8,356.4 103.7,356.4"/>
<polygon points="106.7,356.1 119.8,322.3 140.0,322.3 140.2,324.9 131.0,359.1 107.1,359.1"/>
<polygon points="110.0,358.8 122.6,324.6 137.7,324.6 137.9,327.2 128.2,361.8 110.3,361.8"/>
<polygon points="113.3,361.5 125.4,326.9 135.4,326.9 135.6,329.5 125.5,364.5 113.6,364.5"/>
</g>
<g fill="#14494f" stroke="#14494f" stroke-width="2.2" stroke-linejoin="round">
<polygon points="142.0,337.3 149.4,306.1 159.8,306.1 159.9,308.7 154.5,340.3 142.2,340.3"/>
<polygon points="139.1,340.0 147.0,308.4 162.4,308.4 162.6,311.0 157.7,342.9 139.3,342.9"/>
<polygon points="136.2,342.7 144.6,310.8 165.1,310.8 165.2,313.3 160.9,345.6 136.4,345.6"/>
<polygon points="133.4,345.4 142.2,313.1 167.8,313.1 167.9,315.6 164.0,348.3 133.6,348.3"/>
<polygon points="133.6,348.1 142.4,315.4 167.9,315.4 168.0,317.9 164.1,351.0 133.8,351.0"/>
<polygon points="133.8,350.8 142.6,317.7 168.0,317.7 168.1,320.2 164.2,353.7 134.0,353.7"/>
<polygon points="134.0,353.4 142.8,320.0 168.1,320.0 168.2,322.6 164.3,356.4 134.2,356.4"/>
<polygon points="137.2,356.1 145.4,322.3 165.6,322.3 165.8,324.9 161.4,359.1 137.4,359.1"/>
<polygon points="140.4,358.8 148.1,324.6 163.2,324.6 163.3,327.2 158.5,361.8 140.6,361.8"/>
<polygon points="143.6,361.5 150.8,326.9 160.8,326.9 161.0,329.5 155.6,364.5 143.8,364.5"/>
</g>
<g fill="#14494f" stroke="#14494f" stroke-width="2.2" stroke-linejoin="round">
<polygon points="167.4,345.9 170.7,313.5 179.9,313.5 180.0,316.3 178.4,349.1 167.5,349.1"/>
<polygon points="164.2,348.9 168.0,316.1 183.3,316.1 183.4,320.2 182.4,353.7 164.3,353.7"/>
<polygon points="167.6,353.4 171.0,320.0 180.1,320.0 180.2,323.7 178.5,357.7 167.8,357.7"/>
</g>
<g fill="#14494f" stroke="#14494f" stroke-width="2.2" stroke-linejoin="round">
<polygon points="182.1,345.9 183.0,313.5 193.0,313.5 194.0,345.9 193.9,349.1 182.1,349.1"/>
<polygon points="182.1,348.9 183.1,316.1 193.0,316.1 193.9,348.9 193.9,353.7 182.1,353.7"/>
<polygon points="182.1,353.4 183.1,320.0 193.0,320.0 193.9,353.4 193.8,357.7 182.1,357.7"/>
</g>
<g fill="#14494f" stroke="#14494f" stroke-width="2.2" stroke-linejoin="round">
<polygon points="193.0,316.2 207.0,316.2 210.6,349.0 210.5,353.4 193.9,353.4 193.0,320.0"/>
</g>
<g fill="#5b5348" stroke="#5b5348" stroke-width="2.2" stroke-linejoin="round">
<polygon points="246.9,316.3 247.2,313.5 254.8,313.5 267.8,345.9 267.4,349.1 258.3,349.1"/>
<polygon points="244.9,320.2 245.2,316.1 256.9,316.1 270.2,348.9 269.6,353.7 255.7,353.7"/>
<polygon points="246.4,323.7 246.7,320.0 254.3,320.0 266.9,353.4 266.4,357.7 257.4,357.7"/>
</g>
<g fill="#14494f" stroke="#14494f" stroke-width="2.2" stroke-linejoin="round">
<polygon points="234.2,316.3 234.4,313.5 243.1,313.5 253.8,345.9 253.4,349.1 243.1,349.1"/>
<polygon points="231.7,320.2 231.9,316.1 245.2,316.1 256.2,348.9 255.7,353.7 240.0,353.7"/>
<polygon points="233.8,323.7 234.0,320.0 242.6,320.0 253.0,353.4 252.6,357.7 242.4,357.7"/>
</g>
</g>
<g clip-path="url(#c8)">
<polygon points="30.5,324.0 345.4,324.0 344.7,327.0 31.2,327.0" fill="#5ec8c4" />
<polygon points="30.5,324.0 56.3,294.7 64.1,334.0 40.6,369.7" fill="#5a62b4" />
<polygon points="345.4,324.0 318.9,294.7 312.1,334.0 335.0,369.7" fill="#5a62b4" />
<g fill="#17338c" stroke="#17338c" stroke-width="1.8" stroke-linejoin="round">
<polygon points="110.7,337.3 123.2,306.1 133.5,306.1 133.8,308.7 123.3,340.3 111.0,340.3"/>
<polygon points="107.9,340.0 120.9,308.4 136.3,308.4 136.5,311.0 126.6,342.9 108.2,342.9"/>
<polygon points="105.1,342.7 118.5,310.8 139.1,310.8 139.3,313.3 129.9,345.6 105.5,345.6"/>
<polygon points="102.4,345.4 116.2,313.1 141.8,313.1 142.0,315.6 133.2,348.3 102.8,348.3"/>
<polygon points="102.7,348.1 116.5,315.4 142.0,315.4 142.2,317.9 133.4,351.0 103.1,351.0"/>
<polygon points="103.0,350.8 116.8,317.7 142.2,317.7 142.4,320.2 133.6,353.7 103.4,353.7"/>
<polygon points="103.4,353.4 117.0,320.0 142.4,320.0 142.6,322.6 133.8,356.4 103.7,356.4"/>
<polygon points="106.7,356.1 119.8,322.3 140.0,322.3 140.2,324.9 131.0,359.1 107.1,359.1"/>
<polygon points="110.0,358.8 122.6,324.6 137.7,324.6 137.9,327.2 128.2,361.8 110.3,361.8"/>
<polygon points="113.3,361.5 125.4,326.9 135.4,326.9 135.6,329.5 125.5,364.5 113.6,364.5"/>
</g>
<g fill="#17338c" stroke="#17338c" stroke-width="1.8" stroke-linejoin="round">
<polygon points="142.0,337.3 149.4,306.1 159.8,306.1 159.9,308.7 154.5,340.3 142.2,340.3"/>
<polygon points="139.1,340.0 147.0,308.4 162.4,308.4 162.6,311.0 157.7,342.9 139.3,342.9"/>
<polygon points="136.2,342.7 144.6,310.8 165.1,310.8 165.2,313.3 160.9,345.6 136.4,345.6"/>
<polygon points="133.4,345.4 142.2,313.1 167.8,313.1 167.9,315.6 164.0,348.3 133.6,348.3"/>
<polygon points="133.6,348.1 142.4,315.4 167.9,315.4 168.0,317.9 164.1,351.0 133.8,351.0"/>
<polygon points="133.8,350.8 142.6,317.7 168.0,317.7 168.1,320.2 164.2,353.7 134.0,353.7"/>
<polygon points="134.0,353.4 142.8,320.0 168.1,320.0 168.2,322.6 164.3,356.4 134.2,356.4"/>
<polygon points="137.2,356.1 145.4,322.3 165.6,322.3 165.8,324.9 161.4,359.1 137.4,359.1"/>
<polygon points="140.4,358.8 148.1,324.6 163.2,324.6 163.3,327.2 158.5,361.8 140.6,361.8"/>
<polygon points="143.6,361.5 150.8,326.9 160.8,326.9 161.0,329.5 155.6,364.5 143.8,364.5"/>
</g>
<g fill="#17338c" stroke="#17338c" stroke-width="1.8" stroke-linejoin="round">
<polygon points="167.4,345.9 170.7,313.5 179.9,313.5 180.0,316.3 178.4,349.1 167.5,349.1"/>
<polygon points="164.2,348.9 168.0,316.1 183.3,316.1 183.4,320.2 182.4,353.7 164.3,353.7"/>
<polygon points="167.6,353.4 171.0,320.0 180.1,320.0 180.2,323.7 178.5,357.7 167.8,357.7"/>
</g>
<g fill="#17338c" stroke="#17338c" stroke-width="1.8" stroke-linejoin="round">
<polygon points="182.1,345.9 183.0,313.5 193.0,313.5 194.0,345.9 193.9,349.1 182.1,349.1"/>
<polygon points="182.1,348.9 183.1,316.1 193.0,316.1 193.9,348.9 193.9,353.7 182.1,353.7"/>
<polygon points="182.1,353.4 183.1,320.0 193.0,320.0 193.9,353.4 193.8,357.7 182.1,357.7"/>
</g>
<g fill="#17338c" stroke="#17338c" stroke-width="1.8" stroke-linejoin="round">
<polygon points="193.0,316.2 207.0,316.2 210.6,349.0 210.5,353.4 193.9,353.4 193.0,320.0"/>
</g>
<g fill="#4a4a78" stroke="#4a4a78" stroke-width="1.8" stroke-linejoin="round">
<polygon points="246.9,316.3 247.2,313.5 254.8,313.5 267.8,345.9 267.4,349.1 258.3,349.1"/>
<polygon points="244.9,320.2 245.2,316.1 256.9,316.1 270.2,348.9 269.6,353.7 255.7,353.7"/>
<polygon points="246.4,323.7 246.7,320.0 254.3,320.0 266.9,353.4 266.4,357.7 257.4,357.7"/>
</g>
<g fill="#17338c" stroke="#17338c" stroke-width="1.8" stroke-linejoin="round">
<polygon points="234.2,316.3 234.4,313.5 243.1,313.5 253.8,345.9 253.4,349.1 243.1,349.1"/>
<polygon points="231.7,320.2 231.9,316.1 245.2,316.1 256.2,348.9 255.7,353.7 240.0,353.7"/>
<polygon points="233.8,323.7 234.0,320.0 242.6,320.0 253.0,353.4 252.6,357.7 242.4,357.7"/>
</g>
</g>
<g fill="#ee0202" stroke="#ee0202" stroke-width="0.5">
<polygon points="123.0,337.4 123.3,340.1 126.4,340.1 126.6,342.8 129.7,342.8 129.9,345.5 132.9,345.5 133.1,348.2 133.1,348.2 133.3,350.9 133.3,350.9 133.6,353.6 133.6,353.6 133.8,356.3 130.8,356.3 131.0,358.9 128.0,358.9 128.2,361.6 125.2,361.6 125.5,364.3 113.6,364.3 113.3,361.6 110.3,361.6 110.0,358.9 107.0,358.9 106.7,356.3 103.7,356.3 103.4,353.6 103.4,353.6 103.1,350.9 103.1,350.9 102.7,348.2 102.7,348.2 102.4,345.5 105.5,345.5 105.1,342.8 108.2,342.8 107.9,340.1 111.0,340.1 110.7,337.4"/>
</g>
<g fill="#ee0202" stroke="#ee0202" stroke-width="0.5">
<polygon points="154.4,337.4 154.5,340.1 157.6,340.1 157.7,342.8 160.8,342.8 160.9,345.5 163.9,345.5 164.0,348.2 164.0,348.2 164.1,350.9 164.1,350.9 164.2,353.6 164.2,353.6 164.3,356.3 161.3,356.3 161.4,358.9 158.4,358.9 158.5,361.6 155.5,361.6 155.6,364.3 143.7,364.3 143.6,361.6 140.6,361.6 140.4,358.9 137.4,358.9 137.2,356.3 134.2,356.3 134.0,353.6 134.0,353.6 133.8,350.9 133.8,350.9 133.6,348.2 133.6,348.2 133.4,345.5 136.4,345.5 136.2,342.8 139.3,342.8 139.1,340.1 142.2,340.1 142.0,337.4"/>
</g>
<g fill="#ee0202" stroke="#ee0202" stroke-width="0.5">
<polygon points="178.4,346.0 178.5,349.0 182.4,349.0 182.4,353.6 178.5,353.6 178.5,357.6 167.7,357.6 167.6,353.6 164.3,353.6 164.2,349.0 167.5,349.0 167.4,346.0"/>
</g>
<g fill="#ee0202" stroke="#ee0202" stroke-width="0.5">
<polygon points="194.0,346.0 193.9,349.0 193.9,349.0 193.9,353.6 193.9,353.6 193.8,357.6 182.1,357.6 182.1,353.6 182.1,353.6 182.1,349.0 182.1,349.0 182.1,346.0"/>
</g>
<g fill="#ee0202" stroke="#ee0202" stroke-width="0.5">
<polygon points="210.6,349.1 210.5,353.3 193.9,353.3 193.9,349.1"/>
</g>
<g fill="#f0aa10" stroke="#f0aa10" stroke-width="0.5">
<polygon points="267.8,346.0 267.4,349.0 270.2,349.0 269.6,353.6 266.9,353.6 266.4,357.6 257.4,357.6 257.8,353.6 255.7,353.6 256.2,349.0 258.3,349.0 258.6,346.0"/>
</g>
<g fill="#ee0202" stroke="#ee0202" stroke-width="0.5">
<polygon points="253.8,346.0 253.5,349.0 256.2,349.0 255.7,353.6 253.0,353.6 252.6,357.6 242.4,357.6 242.8,353.6 240.0,353.6 240.4,349.0 243.1,349.0 243.4,346.0"/>
</g>
<path d="M30.5 324.0 L40.6 369.7 L335.0 369.7 L345.4 324.0" stroke="#2f5a48" stroke-opacity="0.8" stroke-width="0.8" fill="none"/>
<path d="M30.1 324.0 L40.2 369.7 M345.8 324.0 L335.4 369.7" stroke="#1c2622" stroke-opacity="0.85" stroke-width="0.9" fill="none"/>
<path d="M40.6 369.7 L64.1 334.0 M335.0 369.7 L312.1 334.0" stroke="#3e6a58" stroke-opacity="0.6" stroke-width="0.6" fill="none"/>
<path d="M30.5 324.0 L345.4 324.0 L318.9 294.7 L56.3 294.7 Z" stroke="#3a3f8a" stroke-opacity="0.7" stroke-width="0.7" fill="none"/>
<path d="M29.9 324.0 L55.7 294.7 M346.0 324.0 L319.5 294.7" stroke="#1a1a2a" stroke-opacity="0.75" stroke-width="0.8" fill="none"/>
<use href="#el_syn" filter="url(#bl04)" transform="translate(187.95 276.00) scale(1.0100 1) translate(-183.60 0)"/>
<polygon points="36.8,229.4 328.3,229.4 305.6,195.2 60.1,195.2" fill="#60c88e" />
<g clip-path="url(#c12)">
<polygon points="36.8,229.4 328.3,229.4 305.6,195.2 60.1,195.2" fill="url(#g11)" />
<polygon points="36.8,229.4 328.3,229.4 305.6,195.2 60.1,195.2" fill="url(#g12)" />
<polygon points="36.8,229.4 328.3,229.4 305.6,195.2 60.1,195.2" fill="url(#g13)" />
</g>
<polygon points="52.4,154.4 312.4,154.4 305.6,195.2 60.1,195.2" fill="url(#g14)" />
<polygon points="52.4,154.4 312.4,154.4 305.6,195.2 60.1,195.2" fill="url(#g15)" />
<polygon points="52.4,154.4 312.4,154.4 305.6,195.2 60.1,195.2" fill="url(#g16)" />
<polygon points="52.4,154.4 312.4,154.4 305.6,195.2 60.1,195.2" fill="url(#g17)" />
<path d="M60.1 195.2 L305.6 195.2" stroke="#2f7f78" stroke-opacity="0.75" stroke-width="0.8"/>
<polygon points="26.8,183.7 52.4,154.4 60.1,195.2 36.8,229.4" fill="url(#g18)" />
<polygon points="338.6,183.7 312.4,154.4 305.6,195.2 328.3,229.4" fill="url(#g19)" />
<g clip-path="url(#c11)">
<ellipse cx="182.9" cy="212.7" rx="27" ry="17" fill="url(#g20)"/>
<path d="M182.9 171.3C184.9 171.3 187.0 171.6 188.9 172.5C190.8 173.4 192.6 175.3 194.1 176.7C195.6 178.1 196.8 179.6 197.7 181.1C198.6 182.6 199.2 183.9 199.5 185.7C199.8 187.5 199.6 189.6 199.6 191.7C199.6 193.8 199.8 196.0 199.5 198.2C199.1 200.4 198.3 202.7 197.5 204.7C196.7 206.7 196.1 208.5 194.9 210.1C193.7 211.7 192.5 213.3 190.5 214.5C188.5 215.7 185.4 217.3 182.9 217.3C180.4 217.3 177.3 215.7 175.3 214.5C173.3 213.3 172.1 211.7 170.9 210.1C169.7 208.5 169.1 206.7 168.3 204.7C167.5 202.7 166.6 200.4 166.3 198.2C165.9 196.0 166.2 193.8 166.2 191.7C166.2 189.6 166.0 187.5 166.3 185.7C166.6 183.9 167.2 182.6 168.1 181.1C169.0 179.6 170.2 178.1 171.7 176.7C173.2 175.3 175.0 173.4 176.9 172.5C178.8 171.6 180.9 171.3 182.9 171.3Z" fill="url(#g21)" filter="url(#bl05)"/>
<path d="M182.9 171.3C184.9 171.3 187.0 171.6 188.9 172.5C190.8 173.4 192.6 175.3 194.1 176.7C195.6 178.1 196.8 179.6 197.7 181.1C198.6 182.6 199.2 183.9 199.5 185.7C199.8 187.5 199.6 189.6 199.6 191.7C199.6 193.8 199.8 196.0 199.5 198.2C199.1 200.4 198.3 202.7 197.5 204.7C196.7 206.7 196.1 208.5 194.9 210.1C193.7 211.7 192.5 213.3 190.5 214.5C188.5 215.7 185.4 217.3 182.9 217.3C180.4 217.3 177.3 215.7 175.3 214.5C173.3 213.3 172.1 211.7 170.9 210.1C169.7 208.5 169.1 206.7 168.3 204.7C167.5 202.7 166.6 200.4 166.3 198.2C165.9 196.0 166.2 193.8 166.2 191.7C166.2 189.6 166.0 187.5 166.3 185.7C166.6 183.9 167.2 182.6 168.1 181.1C169.0 179.6 170.2 178.1 171.7 176.7C173.2 175.3 175.0 173.4 176.9 172.5C178.8 171.6 180.9 171.3 182.9 171.3Z" fill="url(#g22)"/>
<path d="M182.9 192.2C185.2 192.2 188.2 192.8 189.9 193.7C191.6 194.6 192.5 196.0 193.1 197.7C193.7 199.4 193.6 201.8 193.5 203.7C193.4 205.6 193.1 207.6 192.3 209.2C191.5 210.8 190.5 212.2 188.9 213.1C187.3 214.0 184.9 214.5 182.9 214.5C180.9 214.5 178.5 214.0 176.9 213.1C175.3 212.2 174.3 210.8 173.5 209.2C172.7 207.6 172.4 205.6 172.3 203.7C172.2 201.8 172.1 199.4 172.7 197.7C173.3 196.0 174.2 194.6 175.9 193.7C177.6 192.8 180.6 192.2 182.9 192.2Z" fill="url(#g23)" filter="url(#bl1)"/>
<ellipse cx="182.9" cy="188.0" rx="8" ry="2.8" fill="#902c80" fill-opacity="0.32" filter="url(#bl1)"/>
</g>
<g clip-path="url(#c10)">
<polygon points="26.8,183.7 338.6,183.7 312.4,154.4 52.4,154.4" fill="url(#g24)" />
<polygon points="26.8,183.7 338.6,183.7 312.4,154.4 52.4,154.4" fill="url(#g25)" />
<polygon points="26.8,183.7 338.6,183.7 312.4,154.4 52.4,154.4" fill="url(#g26)" />
<polygon points="26.8,183.7 338.6,183.7 312.4,154.4 52.4,154.4" fill="url(#g27)" />
<polygon points="26.8,183.7 52.4,154.4 60.1,195.2 36.8,229.4" fill="#666a96" />
<polygon points="338.6,183.7 312.4,154.4 305.6,195.2 328.3,229.4" fill="#666a96" />
<path d="M182.9 171.3C184.9 171.3 187.0 171.6 188.9 172.5C190.8 173.4 192.6 175.3 194.1 176.7C195.6 178.1 196.8 179.6 197.7 181.1C198.6 182.6 199.2 183.9 199.5 185.7C199.8 187.5 199.6 189.6 199.6 191.7C199.6 193.8 199.8 196.0 199.5 198.2C199.1 200.4 198.3 202.7 197.5 204.7C196.7 206.7 196.1 208.5 194.9 210.1C193.7 211.7 192.5 213.3 190.5 214.5C188.5 215.7 185.4 217.3 182.9 217.3C180.4 217.3 177.3 215.7 175.3 214.5C173.3 213.3 172.1 211.7 170.9 210.1C169.7 208.5 169.1 206.7 168.3 204.7C167.5 202.7 166.6 200.4 166.3 198.2C165.9 196.0 166.2 193.8 166.2 191.7C166.2 189.6 166.0 187.5 166.3 185.7C166.6 183.9 167.2 182.6 168.1 181.1C169.0 179.6 170.2 178.1 171.7 176.7C173.2 175.3 175.0 173.4 176.9 172.5C178.8 171.6 180.9 171.3 182.9 171.3Z" fill="url(#g28)" filter="url(#bl05)"/>
</g>
<path d="M26.8 183.7 L36.8 229.4 L328.3 229.4 L338.6 183.7" stroke="#24504e" stroke-opacity="0.85" stroke-width="0.8" fill="none"/>
<path d="M26.4 183.7 L36.4 229.4 M339.0 183.7 L328.7 229.4" stroke="#1c2622" stroke-opacity="0.8" stroke-width="0.9" fill="none"/>
<path d="M36.8 229.4 L60.1 195.2 M328.3 229.4 L305.6 195.2 M60.1 195.2 L58.5 183.7 M305.6 195.2 L307.2 183.7" stroke="#2c5f60" stroke-opacity="0.7" stroke-width="0.7" fill="none"/>
<path d="M26.8 183.7 L338.6 183.7" stroke="#2c4f80" stroke-opacity="0.6" stroke-width="0.7" fill="none"/>
<path d="M26.2 183.7 L51.8 154.4 M339.2 183.7 L313.0 154.4" stroke="#1a1a2a" stroke-opacity="0.7" stroke-width="0.8" fill="none"/>
<use href="#el_inv" filter="url(#bl04)" transform="translate(182.70 135.70) scale(1.0000 1) translate(-183.60 0)"/>
<polygon points="378.9,229.7 672.4,229.7 649.6,195.5 402.3,195.5" fill="#60c88e" />
<g clip-path="url(#c15)">
<polygon points="378.9,229.7 672.4,229.7 649.6,195.5 402.3,195.5" fill="url(#g29)" />
<polygon points="378.9,229.7 672.4,229.7 649.6,195.5 402.3,195.5" fill="url(#g30)" />
<polygon points="378.9,229.7 672.4,229.7 649.6,195.5 402.3,195.5" fill="url(#g31)" />
</g>
<polygon points="394.6,154.7 656.4,154.7 649.6,195.5 402.3,195.5" fill="url(#g32)" />
<polygon points="394.6,154.7 656.4,154.7 649.6,195.5 402.3,195.5" fill="url(#g33)" />
<polygon points="394.6,154.7 656.4,154.7 649.6,195.5 402.3,195.5" fill="url(#g34)" />
<polygon points="394.6,154.7 656.4,154.7 649.6,195.5 402.3,195.5" fill="url(#g35)" />
<path d="M402.3 195.5 L649.6 195.5" stroke="#2f7f78" stroke-opacity="0.75" stroke-width="0.8"/>
<polygon points="368.8,184.0 394.6,154.7 402.3,195.5 378.9,229.7" fill="url(#g36)" />
<polygon points="682.8,184.0 656.4,154.7 649.6,195.5 672.4,229.7" fill="url(#g37)" />
<g clip-path="url(#c14)">
<ellipse cx="497.9" cy="213.0" rx="27" ry="17" fill="url(#g38)"/>
<path d="M497.9 171.6C499.9 171.6 502.0 171.9 503.9 172.8C505.8 173.7 507.6 175.6 509.1 177.0C510.6 178.4 511.8 179.9 512.7 181.4C513.6 182.9 514.2 184.2 514.5 186.0C514.8 187.8 514.6 189.9 514.6 192.0C514.6 194.1 514.9 196.3 514.5 198.5C514.1 200.7 513.3 203.0 512.5 205.0C511.7 207.0 511.1 208.8 509.9 210.4C508.7 212.0 507.5 213.6 505.5 214.8C503.5 216.0 500.4 217.6 497.9 217.6C495.4 217.6 492.3 216.0 490.3 214.8C488.3 213.6 487.1 212.0 485.9 210.4C484.7 208.8 484.1 207.0 483.3 205.0C482.5 203.0 481.6 200.7 481.3 198.5C480.9 196.3 481.2 194.1 481.2 192.0C481.2 189.9 481.0 187.8 481.3 186.0C481.6 184.2 482.2 182.9 483.1 181.4C484.0 179.9 485.2 178.4 486.7 177.0C488.2 175.6 490.0 173.7 491.9 172.8C493.8 171.9 495.9 171.6 497.9 171.6Z" fill="url(#g39)" filter="url(#bl05)"/>
<path d="M497.9 171.6C499.9 171.6 502.0 171.9 503.9 172.8C505.8 173.7 507.6 175.6 509.1 177.0C510.6 178.4 511.8 179.9 512.7 181.4C513.6 182.9 514.2 184.2 514.5 186.0C514.8 187.8 514.6 189.9 514.6 192.0C514.6 194.1 514.9 196.3 514.5 198.5C514.1 200.7 513.3 203.0 512.5 205.0C511.7 207.0 511.1 208.8 509.9 210.4C508.7 212.0 507.5 213.6 505.5 214.8C503.5 216.0 500.4 217.6 497.9 217.6C495.4 217.6 492.3 216.0 490.3 214.8C488.3 213.6 487.1 212.0 485.9 210.4C484.7 208.8 484.1 207.0 483.3 205.0C482.5 203.0 481.6 200.7 481.3 198.5C480.9 196.3 481.2 194.1 481.2 192.0C481.2 189.9 481.0 187.8 481.3 186.0C481.6 184.2 482.2 182.9 483.1 181.4C484.0 179.9 485.2 178.4 486.7 177.0C488.2 175.6 490.0 173.7 491.9 172.8C493.8 171.9 495.9 171.6 497.9 171.6Z" fill="url(#g40)"/>
<path d="M497.9 192.5C500.2 192.5 503.2 193.1 504.9 194.0C506.6 194.9 507.5 196.3 508.1 198.0C508.7 199.7 508.6 202.1 508.5 204.0C508.4 205.9 508.1 207.9 507.3 209.5C506.5 211.1 505.5 212.5 503.9 213.4C502.3 214.3 499.9 214.8 497.9 214.8C495.9 214.8 493.5 214.3 491.9 213.4C490.3 212.5 489.3 211.1 488.5 209.5C487.7 207.9 487.4 205.9 487.3 204.0C487.2 202.1 487.1 199.7 487.7 198.0C488.3 196.3 489.2 194.9 490.9 194.0C492.6 193.1 495.6 192.5 497.9 192.5Z" fill="url(#g41)" filter="url(#bl1)"/>
<ellipse cx="497.9" cy="188.3" rx="8" ry="2.8" fill="#902c80" fill-opacity="0.32" filter="url(#bl1)"/>
<ellipse cx="553.7" cy="213.0" rx="27" ry="17" fill="url(#g42)"/>
<path d="M553.7 171.6C555.7 171.6 557.8 171.9 559.7 172.8C561.6 173.7 563.4 175.6 564.9 177.0C566.4 178.4 567.6 179.9 568.5 181.4C569.4 182.9 570.0 184.2 570.3 186.0C570.6 187.8 570.4 189.9 570.4 192.0C570.4 194.1 570.6 196.3 570.3 198.5C569.9 200.7 569.1 203.0 568.3 205.0C567.5 207.0 566.9 208.8 565.7 210.4C564.5 212.0 563.3 213.6 561.3 214.8C559.3 216.0 556.2 217.6 553.7 217.6C551.2 217.6 548.1 216.0 546.1 214.8C544.1 213.6 542.9 212.0 541.7 210.4C540.5 208.8 539.9 207.0 539.1 205.0C538.3 203.0 537.4 200.7 537.1 198.5C536.7 196.3 537.0 194.1 537.0 192.0C537.0 189.9 536.8 187.8 537.1 186.0C537.4 184.2 538.0 182.9 538.9 181.4C539.8 179.9 541.0 178.4 542.5 177.0C544.0 175.6 545.8 173.7 547.7 172.8C549.6 171.9 551.7 171.6 553.7 171.6Z" fill="url(#g43)" filter="url(#bl05)"/>
<path d="M553.7 171.6C555.7 171.6 557.8 171.9 559.7 172.8C561.6 173.7 563.4 175.6 564.9 177.0C566.4 178.4 567.6 179.9 568.5 181.4C569.4 182.9 570.0 184.2 570.3 186.0C570.6 187.8 570.4 189.9 570.4 192.0C570.4 194.1 570.6 196.3 570.3 198.5C569.9 200.7 569.1 203.0 568.3 205.0C567.5 207.0 566.9 208.8 565.7 210.4C564.5 212.0 563.3 213.6 561.3 214.8C559.3 216.0 556.2 217.6 553.7 217.6C551.2 217.6 548.1 216.0 546.1 214.8C544.1 213.6 542.9 212.0 541.7 210.4C540.5 208.8 539.9 207.0 539.1 205.0C538.3 203.0 537.4 200.7 537.1 198.5C536.7 196.3 537.0 194.1 537.0 192.0C537.0 189.9 536.8 187.8 537.1 186.0C537.4 184.2 538.0 182.9 538.9 181.4C539.8 179.9 541.0 178.4 542.5 177.0C544.0 175.6 545.8 173.7 547.7 172.8C549.6 171.9 551.7 171.6 553.7 171.6Z" fill="url(#g44)"/>
<path d="M553.7 192.5C556.0 192.5 559.0 193.1 560.7 194.0C562.4 194.9 563.3 196.3 563.9 198.0C564.5 199.7 564.4 202.1 564.3 204.0C564.2 205.9 563.9 207.9 563.1 209.5C562.3 211.1 561.3 212.5 559.7 213.4C558.1 214.3 555.7 214.8 553.7 214.8C551.7 214.8 549.3 214.3 547.7 213.4C546.1 212.5 545.1 211.1 544.3 209.5C543.5 207.9 543.2 205.9 543.1 204.0C543.0 202.1 542.9 199.7 543.5 198.0C544.1 196.3 545.0 194.9 546.7 194.0C548.4 193.1 551.4 192.5 553.7 192.5Z" fill="url(#g45)" filter="url(#bl1)"/>
<ellipse cx="553.7" cy="188.3" rx="8" ry="2.8" fill="#902c80" fill-opacity="0.32" filter="url(#bl1)"/>
</g>
<g clip-path="url(#c13)">
<polygon points="368.8,184.0 682.8,184.0 656.4,154.7 394.6,154.7" fill="url(#g46)" />
<polygon points="368.8,184.0 682.8,184.0 656.4,154.7 394.6,154.7" fill="url(#g47)" />
<polygon points="368.8,184.0 682.8,184.0 656.4,154.7 394.6,154.7" fill="url(#g48)" />
<polygon points="368.8,184.0 682.8,184.0 656.4,154.7 394.6,154.7" fill="url(#g49)" />
<polygon points="368.8,184.0 394.6,154.7 402.3,195.5 378.9,229.7" fill="#666a96" />
<polygon points="682.8,184.0 656.4,154.7 649.6,195.5 672.4,229.7" fill="#666a96" />
<path d="M497.9 171.6C499.9 171.6 502.0 171.9 503.9 172.8C505.8 173.7 507.6 175.6 509.1 177.0C510.6 178.4 511.8 179.9 512.7 181.4C513.6 182.9 514.2 184.2 514.5 186.0C514.8 187.8 514.6 189.9 514.6 192.0C514.6 194.1 514.9 196.3 514.5 198.5C514.1 200.7 513.3 203.0 512.5 205.0C511.7 207.0 511.1 208.8 509.9 210.4C508.7 212.0 507.5 213.6 505.5 214.8C503.5 216.0 500.4 217.6 497.9 217.6C495.4 217.6 492.3 216.0 490.3 214.8C488.3 213.6 487.1 212.0 485.9 210.4C484.7 208.8 484.1 207.0 483.3 205.0C482.5 203.0 481.6 200.7 481.3 198.5C480.9 196.3 481.2 194.1 481.2 192.0C481.2 189.9 481.0 187.8 481.3 186.0C481.6 184.2 482.2 182.9 483.1 181.4C484.0 179.9 485.2 178.4 486.7 177.0C488.2 175.6 490.0 173.7 491.9 172.8C493.8 171.9 495.9 171.6 497.9 171.6Z" fill="url(#g50)" filter="url(#bl05)"/>
<path d="M553.7 171.6C555.7 171.6 557.8 171.9 559.7 172.8C561.6 173.7 563.4 175.6 564.9 177.0C566.4 178.4 567.6 179.9 568.5 181.4C569.4 182.9 570.0 184.2 570.3 186.0C570.6 187.8 570.4 189.9 570.4 192.0C570.4 194.1 570.6 196.3 570.3 198.5C569.9 200.7 569.1 203.0 568.3 205.0C567.5 207.0 566.9 208.8 565.7 210.4C564.5 212.0 563.3 213.6 561.3 214.8C559.3 216.0 556.2 217.6 553.7 217.6C551.2 217.6 548.1 216.0 546.1 214.8C544.1 213.6 542.9 212.0 541.7 210.4C540.5 208.8 539.9 207.0 539.1 205.0C538.3 203.0 537.4 200.7 537.1 198.5C536.7 196.3 537.0 194.1 537.0 192.0C537.0 189.9 536.8 187.8 537.1 186.0C537.4 184.2 538.0 182.9 538.9 181.4C539.8 179.9 541.0 178.4 542.5 177.0C544.0 175.6 545.8 173.7 547.7 172.8C549.6 171.9 551.7 171.6 553.7 171.6Z" fill="url(#g51)" filter="url(#bl05)"/>
</g>
<path d="M368.8 184.0 L378.9 229.7 L672.4 229.7 L682.8 184.0" stroke="#24504e" stroke-opacity="0.85" stroke-width="0.8" fill="none"/>
<path d="M368.4 184.0 L378.5 229.7 M683.2 184.0 L672.8 229.7" stroke="#1c2622" stroke-opacity="0.8" stroke-width="0.9" fill="none"/>
<path d="M378.9 229.7 L402.3 195.5 M672.4 229.7 L649.6 195.5 M402.3 195.5 L400.7 184.0 M649.6 195.5 L651.2 184.0" stroke="#2c5f60" stroke-opacity="0.7" stroke-width="0.7" fill="none"/>
<path d="M368.8 184.0 L682.8 184.0" stroke="#2c4f80" stroke-opacity="0.6" stroke-width="0.7" fill="none"/>
<path d="M368.2 184.0 L394.0 154.7 M683.4 184.0 L657.0 154.7" stroke="#1a1a2a" stroke-opacity="0.7" stroke-width="0.8" fill="none"/>
<use href="#el_inv" filter="url(#bl04)" transform="translate(525.80 136.00) scale(1.0070 1) translate(-183.60 0)"/>
<polygon points="40.6,503.2 335.0,503.2 312.1,469.0 64.1,469.0" fill="#60c88e" />
<g clip-path="url(#c18)">
<polygon points="40.6,503.2 335.0,503.2 312.1,469.0 64.1,469.0" fill="url(#g52)" />
<polygon points="40.6,503.2 335.0,503.2 312.1,469.0 64.1,469.0" fill="url(#g53)" />
<polygon points="40.6,503.2 335.0,503.2 312.1,469.0 64.1,469.0" fill="url(#g54)" />
</g>
<polygon points="56.3,428.2 318.9,428.2 312.1,469.0 64.1,469.0" fill="url(#g55)" />
<polygon points="56.3,428.2 318.9,428.2 312.1,469.0 64.1,469.0" fill="url(#g56)" />
<polygon points="56.3,428.2 318.9,428.2 312.1,469.0 64.1,469.0" fill="url(#g57)" />
<polygon points="56.3,428.2 318.9,428.2 312.1,469.0 64.1,469.0" fill="url(#g58)" />
<path d="M64.1 469.0 L312.1 469.0" stroke="#2f7f78" stroke-opacity="0.75" stroke-width="0.8"/>
<polygon points="30.5,457.5 56.3,428.2 64.1,469.0 40.6,503.2" fill="url(#g59)" />
<polygon points="345.4,457.5 318.9,428.2 312.1,469.0 335.0,503.2" fill="url(#g60)" />
<g clip-path="url(#c17)">
<ellipse cx="135.4" cy="490.2" rx="50" ry="21" fill="url(#g61)"/>
<ellipse cx="246.4" cy="480.2" rx="24" ry="12" fill="url(#g62)"/>
<path d="M100.8 470.2C100.9 465.7 102.0 459.5 104.4 455.2C106.8 450.9 111.1 446.6 115.1 444.2C119.1 441.8 123.3 441.3 128.4 440.7C133.4 440.1 140.1 440.4 145.4 440.5C150.7 440.6 156.2 440.4 160.4 441.2C164.6 442.0 166.2 444.4 170.4 445.2C174.6 445.9 180.7 445.2 185.4 445.7C190.1 446.2 194.7 446.4 198.4 448.2C202.1 449.9 205.5 453.0 207.4 456.2C209.3 459.4 210.3 463.7 210.0 467.2C209.7 470.7 207.7 474.4 205.4 477.2C203.1 479.9 200.6 482.4 196.4 483.7C192.2 485.0 185.2 484.9 180.4 485.2C175.6 485.5 170.7 484.5 167.4 485.7C164.1 486.9 163.2 490.5 160.4 492.2C157.6 493.9 153.6 495.6 150.4 495.8C147.2 496.1 143.9 494.4 141.4 493.7C138.9 493.0 137.6 491.5 135.4 491.7C133.2 491.9 131.1 494.0 128.4 494.7C125.7 495.4 122.4 496.3 119.4 495.8C116.4 495.3 113.0 494.0 110.4 491.7C107.8 489.4 105.5 485.8 103.9 482.2C102.3 478.6 100.7 474.7 100.8 470.2Z" fill="#b4b842" fill-opacity="0.8" stroke="#7a8430" stroke-opacity="0.75" stroke-width="0.9"/>
<path d="M229.1 466.2C229.1 463.0 229.8 457.9 231.4 455.2C232.9 452.4 235.9 450.8 238.4 449.7C240.9 448.6 243.6 448.6 246.4 448.8C249.2 449.1 252.9 449.6 255.4 451.2C257.9 452.8 260.1 455.4 261.4 458.2C262.6 461.0 263.2 465.0 262.9 468.2C262.6 471.4 261.1 474.6 259.4 477.2C257.6 479.8 254.9 482.4 252.4 483.7C249.9 485.0 247.1 485.2 244.4 484.8C241.7 484.4 238.6 483.0 236.4 481.2C234.2 479.4 232.6 476.7 231.4 474.2C230.2 471.7 229.1 469.4 229.1 466.2Z" fill="#b2ba46" fill-opacity="0.88" stroke="#76802c" stroke-opacity="0.85" stroke-width="0.9"/>
<path d="M234.4 470.2C234.1 467.0 236.4 462.4 238.4 460.2C240.4 458.0 243.7 456.9 246.4 457.2C249.1 457.5 252.7 459.7 254.4 462.2C256.1 464.7 257.1 469.2 256.4 472.2C255.7 475.2 253.1 479.0 250.4 480.2C247.7 481.4 243.1 480.9 240.4 479.2C237.7 477.5 234.7 473.4 234.4 470.2Z" fill="#98a038" fill-opacity="0.45" filter="url(#bl1)"/>
<path d="M107.4 472.2C107.8 469.0 108.2 464.0 110.4 461.2C112.6 458.4 115.4 456.6 120.4 455.2C125.4 453.8 134.1 452.9 140.4 452.7C146.7 452.5 153.9 453.1 158.4 454.2C162.9 455.3 165.4 456.5 167.4 459.2C169.4 461.9 170.2 466.7 170.4 470.2C170.6 473.7 169.7 477.1 168.4 480.2C167.1 483.3 165.4 486.6 162.4 488.7C159.4 490.8 153.9 492.4 150.4 492.7C146.9 492.9 143.9 490.9 141.4 490.2C138.9 489.4 137.6 488.0 135.4 488.2C133.2 488.4 131.1 490.4 128.4 491.2C125.7 491.9 122.2 493.4 119.4 492.7C116.6 492.0 113.3 489.3 111.4 487.2C109.5 485.1 108.6 482.7 107.9 480.2C107.2 477.7 107.0 475.4 107.4 472.2Z" fill="url(#g63)" stroke="#8a7a2a" stroke-opacity="0.55" stroke-width="0.8" filter="url(#bl05)"/>
<path d="M160.4 459.7C162.1 457.9 167.4 459.2 170.4 459.7C173.4 460.2 176.2 462.4 178.4 462.7C180.6 462.9 181.7 461.4 183.4 461.2C185.1 461.0 187.1 460.9 188.4 461.7C189.7 462.4 191.2 464.4 191.4 465.7C191.6 467.0 190.6 468.9 189.4 469.7C188.2 470.5 186.2 470.9 184.4 470.7C182.6 470.5 180.7 469.1 178.4 468.7C176.1 468.3 173.4 467.9 170.4 468.2C167.4 468.4 162.1 471.6 160.4 470.2C158.7 468.8 158.7 461.4 160.4 459.7Z" fill="#c0922c" stroke="#6a5620" stroke-opacity="0.85" stroke-width="0.9" filter="url(#bl05)"/>
<path d="M162.4 462.2C164.1 461.4 169.4 462.2 172.4 462.7C175.4 463.2 178.1 464.7 180.4 465.2C182.7 465.7 186.4 465.4 186.4 465.7C186.4 466.0 182.7 467.0 180.4 467.2C178.1 467.4 175.4 466.7 172.4 466.7C169.4 466.7 164.1 467.9 162.4 467.2C160.7 466.4 160.7 462.9 162.4 462.2Z" fill="#e8a028" fill-opacity="0.85" filter="url(#bl1)"/>
<ellipse cx="120.8" cy="481.7" rx="17" ry="10.2" fill="url(#g64)"/>
<ellipse cx="151.1" cy="481.7" rx="17" ry="10.2" fill="url(#g65)"/>
<path d="M110.4 478.2C110.6 475.0 111.4 469.2 113.4 466.2C115.4 463.2 117.9 461.4 122.4 460.2C126.9 458.9 134.7 458.7 140.4 458.7C146.1 458.7 152.4 458.9 156.4 460.2C160.4 461.4 162.7 463.2 164.4 466.2C166.1 469.2 167.1 474.9 166.4 478.2C165.7 481.5 163.1 484.3 160.4 486.2C157.7 488.1 153.6 489.4 150.4 489.7C147.2 489.9 143.9 488.3 141.4 487.7C138.9 487.1 137.6 486.1 135.4 486.2C133.2 486.3 131.1 487.6 128.4 488.2C125.7 488.8 122.1 490.2 119.4 489.7C116.7 489.2 113.9 487.1 112.4 485.2C110.9 483.3 110.2 481.4 110.4 478.2Z" fill="none" stroke="#8a7a2a" stroke-opacity="0.45" stroke-width="0.8"/>
</g>
<g clip-path="url(#c16)">
<polygon points="30.5,457.5 345.4,457.5 318.9,428.2 56.3,428.2" fill="url(#g66)" />
<polygon points="30.5,457.5 345.4,457.5 318.9,428.2 56.3,428.2" fill="url(#g67)" />
<polygon points="30.5,457.5 345.4,457.5 318.9,428.2 56.3,428.2" fill="url(#g68)" />
<polygon points="30.5,457.5 345.4,457.5 318.9,428.2 56.3,428.2" fill="url(#g69)" />
<polygon points="30.5,457.5 56.3,428.2 64.1,469.0 40.6,503.2" fill="#666a96" />
<polygon points="345.4,457.5 318.9,428.2 312.1,469.0 335.0,503.2" fill="#666a96" />
<path d="M100.8 470.2C100.9 465.7 102.0 459.5 104.4 455.2C106.8 450.9 111.1 446.6 115.1 444.2C119.1 441.8 123.3 441.3 128.4 440.7C133.4 440.1 140.1 440.4 145.4 440.5C150.7 440.6 156.2 440.4 160.4 441.2C164.6 442.0 166.2 444.4 170.4 445.2C174.6 445.9 180.7 445.2 185.4 445.7C190.1 446.2 194.7 446.4 198.4 448.2C202.1 449.9 205.5 453.0 207.4 456.2C209.3 459.4 210.3 463.7 210.0 467.2C209.7 470.7 207.7 474.4 205.4 477.2C203.1 479.9 200.6 482.4 196.4 483.7C192.2 485.0 185.2 484.9 180.4 485.2C175.6 485.5 170.7 484.5 167.4 485.7C164.1 486.9 163.2 490.5 160.4 492.2C157.6 493.9 153.6 495.6 150.4 495.8C147.2 496.1 143.9 494.4 141.4 493.7C138.9 493.0 137.6 491.5 135.4 491.7C133.2 491.9 131.1 494.0 128.4 494.7C125.7 495.4 122.4 496.3 119.4 495.8C116.4 495.3 113.0 494.0 110.4 491.7C107.8 489.4 105.5 485.8 103.9 482.2C102.3 478.6 100.7 474.7 100.8 470.2Z" fill="#b8ae46" fill-opacity="0.9" stroke="#6a6a28" stroke-opacity="0.8" stroke-width="0.9"/>
<path d="M112.4 456.2C110.9 454.4 114.1 451.0 116.4 449.2C118.7 447.4 121.6 446.0 126.4 445.2C131.2 444.4 139.7 444.0 145.4 444.2C151.1 444.4 156.6 444.9 160.4 446.2C164.2 447.5 166.7 450.2 168.4 452.2C170.1 454.2 173.4 456.9 170.4 458.2C167.4 459.5 157.9 459.9 150.4 460.2C142.9 460.5 131.7 460.9 125.4 460.2C119.1 459.5 113.9 458.0 112.4 456.2Z" fill="#d0b040" fill-opacity="0.7" filter="url(#bl1)"/>
<path d="M229.1 466.2C229.1 463.0 229.8 457.9 231.4 455.2C232.9 452.4 235.9 450.8 238.4 449.7C240.9 448.6 243.6 448.6 246.4 448.8C249.2 449.1 252.9 449.6 255.4 451.2C257.9 452.8 260.1 455.4 261.4 458.2C262.6 461.0 263.2 465.0 262.9 468.2C262.6 471.4 261.1 474.6 259.4 477.2C257.6 479.8 254.9 482.4 252.4 483.7C249.9 485.0 247.1 485.2 244.4 484.8C241.7 484.4 238.6 483.0 236.4 481.2C234.2 479.4 232.6 476.7 231.4 474.2C230.2 471.7 229.1 469.4 229.1 466.2Z" fill="#b4b44a" fill-opacity="0.9" stroke="#6a6a28" stroke-opacity="0.8" stroke-width="0.9"/>
<path d="M114.4 459.2C114.6 457.6 115.6 454.4 117.4 452.7C119.2 451.0 121.6 449.9 125.4 449.2C129.2 448.4 135.2 448.2 140.4 448.2C145.6 448.2 152.2 448.4 156.4 449.2C160.6 449.9 163.2 451.2 165.4 452.7C167.6 454.2 168.9 456.6 169.4 458.2C169.9 459.8 177.2 461.5 168.4 462.2C159.6 462.9 125.4 462.7 116.4 462.2C107.4 461.7 114.2 460.8 114.4 459.2Z" fill="url(#g70)" filter="url(#bl1)"/>
</g>
<path d="M30.5 457.5 L40.6 503.2 L335.0 503.2 L345.4 457.5" stroke="#24504e" stroke-opacity="0.85" stroke-width="0.8" fill="none"/>
<path d="M30.1 457.5 L40.2 503.2 M345.8 457.5 L335.4 503.2" stroke="#1c2622" stroke-opacity="0.8" stroke-width="0.9" fill="none"/>
<path d="M40.6 503.2 L64.1 469.0 M335.0 503.2 L312.1 469.0 M64.1 469.0 L62.5 457.5 M312.1 469.0 L313.7 457.5" stroke="#2c5f60" stroke-opacity="0.7" stroke-width="0.7" fill="none"/>
<path d="M30.5 457.5 L345.4 457.5" stroke="#2c4f80" stroke-opacity="0.6" stroke-width="0.7" fill="none"/>
<path d="M29.9 457.5 L55.7 428.2 M346.0 457.5 L319.5 428.2" stroke="#1a1a2a" stroke-opacity="0.7" stroke-width="0.8" fill="none"/>
<use href="#el_inv" filter="url(#bl04)" transform="translate(187.95 409.50) scale(1.0100 1) translate(-183.60 0)"/>
<text x="184.5" y="11.6" font-size="14.4" text-anchor="middle" font-weight="bold" textLength="198.8" lengthAdjust="spacingAndGlyphs" fill="#222">3-D synthetic model «SYM 1»</text>
<text x="526.3" y="11.6" font-size="14.4" text-anchor="middle" font-weight="bold" textLength="198.8" lengthAdjust="spacingAndGlyphs" fill="#222">3-D synthetic model «SYM 2»</text>
<text x="183.3" y="146.3" font-size="14.4" text-anchor="middle" font-weight="bold" textLength="271.5" lengthAdjust="spacingAndGlyphs" fill="#222">Pseudo 3-D inverse model from «SYM 1»</text>
<text x="526.5" y="146.3" font-size="14.4" text-anchor="middle" font-weight="bold" textLength="271.5" lengthAdjust="spacingAndGlyphs" fill="#222">Pseudo 3-D inverse model from «SYM 2»</text>
<text x="187.2" y="285.5" font-size="14.4" text-anchor="middle" font-weight="bold" textLength="201.5" lengthAdjust="spacingAndGlyphs" fill="#222">3-D synthetic model «SYM 3»</text>
<text x="187.8" y="418.7" font-size="14.4" text-anchor="middle" font-weight="bold" textLength="272.0" lengthAdjust="spacingAndGlyphs" fill="#222">Pseudo 3-D inverse model from «SYM 3»</text>
<text x="50.3" y="24.3" font-size="14.5" text-anchor="end" fill="#222">26</text>
<text x="26.4" y="54.3" font-size="14.5" text-anchor="end" fill="#222">0</text>
<text x="36.7" y="98.1" font-size="14.5" text-anchor="end" fill="#222">17</text>
<text x="37.5" y="110.3" font-size="14.5" text-anchor="middle" textLength="7.7" lengthAdjust="spacingAndGlyphs" fill="#222">0</text>
<text x="183.4" y="108.7" font-size="14.5" text-anchor="middle" textLength="15.6" lengthAdjust="spacingAndGlyphs" fill="#222">50</text>
<text x="329.4" y="108.8" font-size="14.5" text-anchor="middle" textLength="22.6" lengthAdjust="spacingAndGlyphs" fill="#222">100</text>
<text x="183.9" y="119.8" font-size="14.5" text-anchor="middle" fill="#222">X [m]</text>
<path d="M183.4 93.7v2" stroke="#333" stroke-width="0.8"/>
<text x="13.4" y="72.8" font-size="14.5" text-anchor="middle" transform="rotate(-90.0 13.4 72.8)" fill="#222">Z [m]</text>
<text x="21.4" y="29.3" font-size="14.5" text-anchor="middle" transform="rotate(-58.0 21.4 29.3)" fill="#222">Y [m]</text>
<text x="390.1" y="24.3" font-size="14.5" text-anchor="end" fill="#222">26</text>
<text x="367.7" y="54.3" font-size="14.5" text-anchor="end" fill="#222">0</text>
<text x="378.1" y="98.1" font-size="14.5" text-anchor="end" fill="#222">17</text>
<text x="378.9" y="110.3" font-size="14.5" text-anchor="middle" textLength="7.7" lengthAdjust="spacingAndGlyphs" fill="#222">0</text>
<text x="525.7" y="108.7" font-size="14.5" text-anchor="middle" textLength="15.6" lengthAdjust="spacingAndGlyphs" fill="#222">50</text>
<text x="672.5" y="108.8" font-size="14.5" text-anchor="middle" textLength="22.6" lengthAdjust="spacingAndGlyphs" fill="#222">100</text>
<text x="526.2" y="119.8" font-size="14.5" text-anchor="middle" fill="#222">X [m]</text>
<path d="M525.7 93.7v2" stroke="#333" stroke-width="0.8"/>
<text x="354.7" y="71.8" font-size="14.5" text-anchor="middle" transform="rotate(-90.0 354.7 71.8)" fill="#222">Z [m]</text>
<text x="361.7" y="29.3" font-size="14.5" text-anchor="middle" transform="rotate(-58.0 361.7 29.3)" fill="#222">Y [m]</text>
<text x="49.4" y="160.0" font-size="14.5" text-anchor="end" fill="#222">26</text>
<text x="25.5" y="190.0" font-size="14.5" text-anchor="end" fill="#222">0</text>
<text x="35.0" y="233.8" font-size="14.5" text-anchor="end" fill="#222">17</text>
<text x="36.6" y="243.0" font-size="14.5" text-anchor="middle" textLength="7.7" lengthAdjust="spacingAndGlyphs" fill="#222">0</text>
<text x="182.5" y="242.6" font-size="14.5" text-anchor="middle" textLength="15.6" lengthAdjust="spacingAndGlyphs" fill="#222">50</text>
<text x="328.5" y="243.0" font-size="14.5" text-anchor="middle" textLength="22.6" lengthAdjust="spacingAndGlyphs" fill="#222">100</text>
<text x="183.0" y="254.2" font-size="14.5" text-anchor="middle" fill="#222">X [m]</text>
<path d="M182.5 229.4v2" stroke="#333" stroke-width="0.8"/>
<text x="12.5" y="206.5" font-size="14.5" text-anchor="middle" transform="rotate(-90.0 12.5 206.5)" fill="#222">Z [m]</text>
<text x="21.5" y="168.5" font-size="14.5" text-anchor="middle" transform="rotate(-58.0 21.5 168.5)" fill="#222">Y [m]</text>
<text x="391.6" y="160.3" font-size="14.5" text-anchor="end" fill="#222">26</text>
<text x="367.5" y="190.3" font-size="14.5" text-anchor="end" fill="#222">0</text>
<text x="377.9" y="234.1" font-size="14.5" text-anchor="end" fill="#222">17</text>
<text x="378.7" y="243.0" font-size="14.5" text-anchor="middle" textLength="7.7" lengthAdjust="spacingAndGlyphs" fill="#222">0</text>
<text x="525.6" y="242.6" font-size="14.5" text-anchor="middle" textLength="15.6" lengthAdjust="spacingAndGlyphs" fill="#222">50</text>
<text x="672.6" y="243.0" font-size="14.5" text-anchor="middle" textLength="22.6" lengthAdjust="spacingAndGlyphs" fill="#222">100</text>
<text x="526.1" y="254.2" font-size="14.5" text-anchor="middle" fill="#222">X [m]</text>
<path d="M525.6 229.7v2" stroke="#333" stroke-width="0.8"/>
<text x="354.5" y="206.3" font-size="14.5" text-anchor="middle" transform="rotate(-90.0 354.5 206.3)" fill="#222">Z [m]</text>
<text x="360.5" y="168.8" font-size="14.5" text-anchor="middle" transform="rotate(-58.0 360.5 168.8)" fill="#222">Y [m]</text>
<text x="49.8" y="300.3" font-size="14.5" text-anchor="end" fill="#222">26</text>
<text x="29.2" y="330.3" font-size="14.5" text-anchor="end" fill="#222">0</text>
<text x="40.8" y="374.1" font-size="14.5" text-anchor="end" fill="#222">17</text>
<text x="40.4" y="382.2" font-size="14.5" text-anchor="middle" textLength="7.7" lengthAdjust="spacingAndGlyphs" fill="#222">0</text>
<text x="187.8" y="382.0" font-size="14.5" text-anchor="middle" textLength="15.6" lengthAdjust="spacingAndGlyphs" fill="#222">50</text>
<text x="335.2" y="382.2" font-size="14.5" text-anchor="middle" textLength="22.6" lengthAdjust="spacingAndGlyphs" fill="#222">100</text>
<text x="188.3" y="393.6" font-size="14.5" text-anchor="middle" fill="#222">X [m]</text>
<path d="M187.8 369.7v2" stroke="#333" stroke-width="0.8"/>
<text x="13.2" y="347.6" font-size="14.5" text-anchor="middle" transform="rotate(-90.0 13.2 347.6)" fill="#222">Z [m]</text>
<text x="21.2" y="302.0" font-size="14.5" text-anchor="middle" transform="rotate(-58.0 21.2 302.0)" fill="#222">Y [m]</text>
<text x="50.8" y="433.8" font-size="14.5" text-anchor="end" fill="#222">26</text>
<text x="29.2" y="463.8" font-size="14.5" text-anchor="end" fill="#222">0</text>
<text x="40.3" y="507.6" font-size="14.5" text-anchor="end" fill="#222">17</text>
<text x="40.4" y="516.8" font-size="14.5" text-anchor="middle" textLength="7.7" lengthAdjust="spacingAndGlyphs" fill="#222">0</text>
<text x="187.8" y="516.6" font-size="14.5" text-anchor="middle" textLength="15.6" lengthAdjust="spacingAndGlyphs" fill="#222">50</text>
<text x="335.2" y="516.8" font-size="14.5" text-anchor="middle" textLength="22.6" lengthAdjust="spacingAndGlyphs" fill="#222">100</text>
<text x="188.3" y="531.3" font-size="14.5" text-anchor="middle" fill="#222">X [m]</text>
<path d="M187.8 503.2v2" stroke="#333" stroke-width="0.8"/>
<text x="13.6" y="482.4" font-size="14.5" text-anchor="middle" transform="rotate(-90.0 13.6 482.4)" fill="#222">Z [m]</text>
<text x="21.2" y="441.3" font-size="14.5" text-anchor="middle" transform="rotate(-58.0 21.2 441.3)" fill="#222">Y [m]</text>
<path d="M110.3 107.0 V124.9 M105.1 116.8 L110.3 125.1 L115.5 116.8" stroke="#222" stroke-width="1.9" fill="none" stroke-linecap="round" stroke-linejoin="round"/>
<path d="M257.6 107.0 V124.9 M252.4 116.8 L257.6 125.1 L262.8 116.8" stroke="#222" stroke-width="1.9" fill="none" stroke-linecap="round" stroke-linejoin="round"/>
<path d="M451.5 107.0 V124.9 M446.3 116.8 L451.5 125.1 L456.7 116.8" stroke="#222" stroke-width="1.9" fill="none" stroke-linecap="round" stroke-linejoin="round"/>
<path d="M599.8 107.0 V124.9 M594.6 116.8 L599.8 125.1 L605.0 116.8" stroke="#222" stroke-width="1.9" fill="none" stroke-linecap="round" stroke-linejoin="round"/>
<path d="M110.2 380.5 V398.5 M105.0 390.4 L110.2 398.7 L115.4 390.4" stroke="#222" stroke-width="1.9" fill="none" stroke-linecap="round" stroke-linejoin="round"/>
<path d="M257.8 380.5 V398.5 M252.6 390.4 L257.8 398.7 L263.0 390.4" stroke="#222" stroke-width="1.9" fill="none" stroke-linecap="round" stroke-linejoin="round"/>
<rect x="1.2" y="108.2" width="16.3" height="16.2" fill="#fff" stroke="#444" stroke-width="1"/>
<text x="9.3" y="121.0" font-size="14.5" text-anchor="middle" fill="#222">a1</text>
<rect x="343.1" y="108.2" width="17.5" height="16.2" fill="#fff" stroke="#444" stroke-width="1"/>
<text x="352.5" y="121.0" font-size="14.5" text-anchor="middle" fill="#222">b1</text>
<rect x="1.0" y="242.7" width="17.0" height="16.4" fill="#fff" stroke="#444" stroke-width="1"/>
<text x="9.5" y="255.7" font-size="14.5" text-anchor="middle" fill="#222">a2</text>
<rect x="343.3" y="242.4" width="17.0" height="16.2" fill="#fff" stroke="#444" stroke-width="1"/>
<text x="351.8" y="255.2" font-size="14.5" text-anchor="middle" fill="#222">b2</text>
<rect x="1.4" y="381.8" width="17.0" height="16.0" fill="#fff" stroke="#444" stroke-width="1"/>
<text x="9.9" y="394.4" font-size="14.5" text-anchor="middle" fill="#222">c1</text>
<rect x="1.4" y="520.0" width="17.0" height="16.4" fill="#fff" stroke="#444" stroke-width="1"/>
<text x="9.9" y="533.0" font-size="14.5" text-anchor="middle" fill="#222">c2</text>
<text x="514.8" y="280.6" font-size="14.5" text-anchor="middle" textLength="103.5" lengthAdjust="spacingAndGlyphs" fill="#222">resistivity [Ω×m]</text>
<g shape-rendering="crispEdges">
<rect x="392.0" y="286.1" width="4.0" height="18.1" fill="#0000ff"/>
<rect x="395.90" y="286.1" width="3.87" height="18.1" fill="rgb(170,238,0)"/>
<rect x="399.17" y="286.1" width="3.87" height="18.1" fill="rgb(223,249,0)"/>
<rect x="402.45" y="286.1" width="3.87" height="18.1" fill="rgb(252,253,0)"/>
<rect x="405.72" y="286.1" width="3.87" height="18.1" fill="rgb(254,248,0)"/>
<rect x="409.00" y="286.1" width="3.87" height="18.1" fill="rgb(255,239,0)"/>
<rect x="412.27" y="286.1" width="3.87" height="18.1" fill="rgb(255,228,0)"/>
<rect x="415.54" y="286.1" width="3.87" height="18.1" fill="rgb(255,218,0)"/>
<rect x="418.82" y="286.1" width="3.87" height="18.1" fill="rgb(255,208,0)"/>
<rect x="422.09" y="286.1" width="3.87" height="18.1" fill="rgb(255,198,0)"/>
<rect x="425.37" y="286.1" width="3.87" height="18.1" fill="rgb(255,189,0)"/>
<rect x="428.64" y="286.1" width="3.87" height="18.1" fill="rgb(255,181,0)"/>
<rect x="431.91" y="286.1" width="3.87" height="18.1" fill="rgb(255,173,0)"/>
<rect x="435.19" y="286.1" width="3.87" height="18.1" fill="rgb(255,165,0)"/>
<rect x="438.46" y="286.1" width="3.87" height="18.1" fill="rgb(255,157,0)"/>
<rect x="441.73" y="286.1" width="3.87" height="18.1" fill="rgb(255,149,0)"/>
<rect x="445.01" y="286.1" width="3.87" height="18.1" fill="rgb(255,140,0)"/>
<rect x="448.28" y="286.1" width="3.87" height="18.1" fill="rgb(255,132,0)"/>
<rect x="451.56" y="286.1" width="3.87" height="18.1" fill="rgb(255,126,0)"/>
<rect x="454.83" y="286.1" width="3.87" height="18.1" fill="rgb(255,120,0)"/>
<rect x="458.10" y="286.1" width="3.87" height="18.1" fill="rgb(255,114,0)"/>
<rect x="461.38" y="286.1" width="3.87" height="18.1" fill="rgb(255,108,0)"/>
<rect x="464.65" y="286.1" width="3.87" height="18.1" fill="rgb(255,103,0)"/>
<rect x="467.93" y="286.1" width="3.87" height="18.1" fill="rgb(255,98,0)"/>
<rect x="471.20" y="286.1" width="3.87" height="18.1" fill="rgb(255,94,0)"/>
<rect x="474.47" y="286.1" width="3.87" height="18.1" fill="rgb(255,90,0)"/>
<rect x="477.75" y="286.1" width="3.87" height="18.1" fill="rgb(255,85,0)"/>
<rect x="481.02" y="286.1" width="3.87" height="18.1" fill="rgb(255,81,0)"/>
<rect x="484.30" y="286.1" width="3.87" height="18.1" fill="rgb(255,76,0)"/>
<rect x="487.57" y="286.1" width="3.87" height="18.1" fill="rgb(255,71,0)"/>
<rect x="490.84" y="286.1" width="3.87" height="18.1" fill="rgb(255,67,0)"/>
<rect x="494.12" y="286.1" width="3.87" height="18.1" fill="rgb(255,62,0)"/>
<rect x="497.39" y="286.1" width="3.87" height="18.1" fill="rgb(255,60,0)"/>
<rect x="500.67" y="286.1" width="3.87" height="18.1" fill="rgb(255,59,0)"/>
<rect x="503.94" y="286.1" width="3.87" height="18.1" fill="rgb(255,58,0)"/>
<rect x="507.21" y="286.1" width="3.87" height="18.1" fill="rgb(255,57,0)"/>
<rect x="510.49" y="286.1" width="3.87" height="18.1" fill="rgb(255,56,0)"/>
<rect x="513.76" y="286.1" width="3.87" height="18.1" fill="rgb(255,54,0)"/>
<rect x="517.03" y="286.1" width="3.87" height="18.1" fill="rgb(255,53,0)"/>
<rect x="520.31" y="286.1" width="3.87" height="18.1" fill="rgb(255,52,0)"/>
<rect x="523.58" y="286.1" width="3.87" height="18.1" fill="rgb(255,51,0)"/>
<rect x="526.86" y="286.1" width="3.87" height="18.1" fill="rgb(255,50,0)"/>
<rect x="530.13" y="286.1" width="3.87" height="18.1" fill="rgb(255,49,0)"/>
<rect x="533.40" y="286.1" width="3.87" height="18.1" fill="rgb(255,47,0)"/>
<rect x="536.68" y="286.1" width="3.87" height="18.1" fill="rgb(255,46,0)"/>
<rect x="539.95" y="286.1" width="3.87" height="18.1" fill="rgb(255,45,0)"/>
<rect x="543.23" y="286.1" width="3.87" height="18.1" fill="rgb(255,43,0)"/>
<rect x="546.50" y="286.1" width="3.87" height="18.1" fill="rgb(255,41,0)"/>
<rect x="549.77" y="286.1" width="3.87" height="18.1" fill="rgb(255,39,0)"/>
<rect x="553.05" y="286.1" width="3.87" height="18.1" fill="rgb(255,37,0)"/>
<rect x="556.32" y="286.1" width="3.87" height="18.1" fill="rgb(255,35,0)"/>
<rect x="559.60" y="286.1" width="3.87" height="18.1" fill="rgb(255,33,0)"/>
<rect x="562.87" y="286.1" width="3.87" height="18.1" fill="rgb(255,31,0)"/>
<rect x="566.14" y="286.1" width="3.87" height="18.1" fill="rgb(255,29,0)"/>
<rect x="569.42" y="286.1" width="3.87" height="18.1" fill="rgb(255,27,0)"/>
<rect x="572.69" y="286.1" width="3.87" height="18.1" fill="rgb(255,25,0)"/>
<rect x="575.97" y="286.1" width="3.87" height="18.1" fill="rgb(255,23,0)"/>
<rect x="579.24" y="286.1" width="3.87" height="18.1" fill="rgb(255,21,0)"/>
<rect x="582.51" y="286.1" width="3.87" height="18.1" fill="rgb(255,19,0)"/>
<rect x="585.79" y="286.1" width="3.87" height="18.1" fill="rgb(255,17,0)"/>
<rect x="589.06" y="286.1" width="3.87" height="18.1" fill="rgb(255,16,0)"/>
<rect x="592.33" y="286.1" width="3.87" height="18.1" fill="rgb(255,14,0)"/>
<rect x="595.61" y="286.1" width="3.87" height="18.1" fill="rgb(255,12,0)"/>
<rect x="598.88" y="286.1" width="3.87" height="18.1" fill="rgb(255,11,0)"/>
<rect x="602.16" y="286.1" width="3.87" height="18.1" fill="rgb(255,9,0)"/>
<rect x="605.43" y="286.1" width="3.87" height="18.1" fill="rgb(255,7,0)"/>
<rect x="608.70" y="286.1" width="3.87" height="18.1" fill="rgb(255,5,0)"/>
<rect x="611.98" y="286.1" width="3.87" height="18.1" fill="rgb(255,4,0)"/>
<rect x="615.25" y="286.1" width="3.87" height="18.1" fill="rgb(255,2,0)"/>
<rect x="618.53" y="286.1" width="3.27" height="18.1" fill="rgb(255,0,0)"/>
</g>
<g shape-rendering="crispEdges">
<rect x="392.0" y="327.3" width="4.0" height="18.3" fill="#0000ff"/>
<rect x="395.90" y="327.3" width="3.87" height="18.3" fill="rgb(5,214,0)"/>
<rect x="399.17" y="327.3" width="3.87" height="18.3" fill="rgb(67,226,0)"/>
<rect x="402.45" y="327.3" width="3.87" height="18.3" fill="rgb(128,236,0)"/>
<rect x="405.72" y="327.3" width="3.87" height="18.3" fill="rgb(168,243,0)"/>
<rect x="409.00" y="327.3" width="3.87" height="18.3" fill="rgb(201,250,0)"/>
<rect x="412.27" y="327.3" width="3.87" height="18.3" fill="rgb(230,253,0)"/>
<rect x="415.54" y="327.3" width="3.87" height="18.3" fill="rgb(250,254,0)"/>
<rect x="418.82" y="327.3" width="3.87" height="18.3" fill="rgb(253,251,0)"/>
<rect x="422.09" y="327.3" width="3.87" height="18.3" fill="rgb(255,247,0)"/>
<rect x="425.37" y="327.3" width="3.87" height="18.3" fill="rgb(255,238,0)"/>
<rect x="428.64" y="327.3" width="3.87" height="18.3" fill="rgb(255,229,0)"/>
<rect x="431.91" y="327.3" width="3.87" height="18.3" fill="rgb(255,218,0)"/>
<rect x="435.19" y="327.3" width="3.87" height="18.3" fill="rgb(255,208,0)"/>
<rect x="438.46" y="327.3" width="3.87" height="18.3" fill="rgb(255,199,0)"/>
<rect x="441.73" y="327.3" width="3.87" height="18.3" fill="rgb(255,191,0)"/>
<rect x="445.01" y="327.3" width="3.87" height="18.3" fill="rgb(255,183,0)"/>
<rect x="448.28" y="327.3" width="3.87" height="18.3" fill="rgb(255,175,0)"/>
<rect x="451.56" y="327.3" width="3.87" height="18.3" fill="rgb(255,167,0)"/>
<rect x="454.83" y="327.3" width="3.87" height="18.3" fill="rgb(255,158,0)"/>
<rect x="458.10" y="327.3" width="3.87" height="18.3" fill="rgb(255,152,0)"/>
<rect x="461.38" y="327.3" width="3.87" height="18.3" fill="rgb(255,146,0)"/>
<rect x="464.65" y="327.3" width="3.87" height="18.3" fill="rgb(255,141,0)"/>
<rect x="467.93" y="327.3" width="3.87" height="18.3" fill="rgb(255,135,0)"/>
<rect x="471.20" y="327.3" width="3.87" height="18.3" fill="rgb(255,130,0)"/>
<rect x="474.47" y="327.3" width="3.87" height="18.3" fill="rgb(255,125,0)"/>
<rect x="477.75" y="327.3" width="3.87" height="18.3" fill="rgb(255,120,0)"/>
<rect x="481.02" y="327.3" width="3.87" height="18.3" fill="rgb(255,115,0)"/>
<rect x="484.30" y="327.3" width="3.87" height="18.3" fill="rgb(255,111,0)"/>
<rect x="487.57" y="327.3" width="3.87" height="18.3" fill="rgb(255,106,0)"/>
<rect x="490.84" y="327.3" width="3.87" height="18.3" fill="rgb(255,102,0)"/>
<rect x="494.12" y="327.3" width="3.87" height="18.3" fill="rgb(255,97,0)"/>
<rect x="497.39" y="327.3" width="3.87" height="18.3" fill="rgb(255,94,0)"/>
<rect x="500.67" y="327.3" width="3.87" height="18.3" fill="rgb(255,91,0)"/>
<rect x="503.94" y="327.3" width="3.87" height="18.3" fill="rgb(255,89,0)"/>
<rect x="507.21" y="327.3" width="3.87" height="18.3" fill="rgb(255,86,0)"/>
<rect x="510.49" y="327.3" width="3.87" height="18.3" fill="rgb(255,84,0)"/>
<rect x="513.76" y="327.3" width="3.87" height="18.3" fill="rgb(255,81,0)"/>
<rect x="517.03" y="327.3" width="3.87" height="18.3" fill="rgb(255,79,0)"/>
<rect x="520.31" y="327.3" width="3.87" height="18.3" fill="rgb(255,76,0)"/>
<rect x="523.58" y="327.3" width="3.87" height="18.3" fill="rgb(255,74,0)"/>
<rect x="526.86" y="327.3" width="3.87" height="18.3" fill="rgb(255,71,0)"/>
<rect x="530.13" y="327.3" width="3.87" height="18.3" fill="rgb(255,69,0)"/>
<rect x="533.40" y="327.3" width="3.87" height="18.3" fill="rgb(255,66,0)"/>
<rect x="536.68" y="327.3" width="3.87" height="18.3" fill="rgb(255,64,0)"/>
<rect x="539.95" y="327.3" width="3.87" height="18.3" fill="rgb(255,61,0)"/>
<rect x="543.23" y="327.3" width="3.87" height="18.3" fill="rgb(255,59,0)"/>
<rect x="546.50" y="327.3" width="3.87" height="18.3" fill="rgb(255,56,0)"/>
<rect x="549.77" y="327.3" width="3.87" height="18.3" fill="rgb(255,54,0)"/>
<rect x="553.05" y="327.3" width="3.87" height="18.3" fill="rgb(255,52,0)"/>
<rect x="556.32" y="327.3" width="3.87" height="18.3" fill="rgb(255,49,0)"/>
<rect x="559.60" y="327.3" width="3.87" height="18.3" fill="rgb(255,47,0)"/>
<rect x="562.87" y="327.3" width="3.87" height="18.3" fill="rgb(255,44,0)"/>
<rect x="566.14" y="327.3" width="3.87" height="18.3" fill="rgb(255,41,0)"/>
<rect x="569.42" y="327.3" width="3.87" height="18.3" fill="rgb(255,39,0)"/>
<rect x="572.69" y="327.3" width="3.87" height="18.3" fill="rgb(255,36,0)"/>
<rect x="575.97" y="327.3" width="3.87" height="18.3" fill="rgb(255,34,0)"/>
<rect x="579.24" y="327.3" width="3.87" height="18.3" fill="rgb(255,31,0)"/>
<rect x="582.51" y="327.3" width="3.87" height="18.3" fill="rgb(255,29,0)"/>
<rect x="585.79" y="327.3" width="3.87" height="18.3" fill="rgb(255,26,0)"/>
<rect x="589.06" y="327.3" width="3.87" height="18.3" fill="rgb(255,24,0)"/>
<rect x="592.33" y="327.3" width="3.87" height="18.3" fill="rgb(255,21,0)"/>
<rect x="595.61" y="327.3" width="3.87" height="18.3" fill="rgb(255,19,0)"/>
<rect x="598.88" y="327.3" width="3.87" height="18.3" fill="rgb(255,16,0)"/>
<rect x="602.16" y="327.3" width="3.87" height="18.3" fill="rgb(255,14,0)"/>
<rect x="605.43" y="327.3" width="3.87" height="18.3" fill="rgb(255,11,0)"/>
<rect x="608.70" y="327.3" width="3.87" height="18.3" fill="rgb(255,9,0)"/>
<rect x="611.98" y="327.3" width="3.87" height="18.3" fill="rgb(255,6,0)"/>
<rect x="615.25" y="327.3" width="3.87" height="18.3" fill="rgb(255,3,0)"/>
<rect x="618.53" y="327.3" width="3.27" height="18.3" fill="rgb(255,1,0)"/>
</g>
<path d="M392.1 304.2v3.2M445.6 304.2v3.2M504.3 304.2v3.2M563.0 304.2v3.2M621.5 304.2v3.2" stroke="#333" stroke-width="0.9"/>
<path d="M392.1 345.6v3.2M445.6 345.6v3.2M504.3 345.6v3.2M563.0 345.6v3.2M621.5 345.6v3.2" stroke="#333" stroke-width="0.9"/>
<text x="392.1" y="320.1" font-size="14.3" text-anchor="middle" fill="#222">100</text>
<text x="446.5" y="320.1" font-size="14.3" text-anchor="middle" fill="#222">2.50e+6</text>
<text x="504.8" y="320.1" font-size="14.3" text-anchor="middle" fill="#222">5.00e+6</text>
<text x="563.5" y="320.1" font-size="14.3" text-anchor="middle" fill="#222">7.50e+6</text>
<text x="621.9" y="320.1" font-size="14.3" text-anchor="middle" fill="#222">1.00e+7</text>
<text x="392.1" y="361.5" font-size="14.3" text-anchor="middle" fill="#222">100</text>
<text x="446.5" y="361.5" font-size="14.3" text-anchor="middle" fill="#222">1.25e+5</text>
<text x="504.8" y="361.5" font-size="14.3" text-anchor="middle" fill="#222">2.50e+5</text>
<text x="563.5" y="361.5" font-size="14.3" text-anchor="middle" fill="#222">3.75e+5</text>
<text x="621.9" y="361.5" font-size="14.3" text-anchor="middle" fill="#222">5.00e+5</text>
<rect x="361.2" y="296.8" width="14.2" height="13.0" fill="#fff" stroke="#333" stroke-width="1"/>
<text x="368.3" y="307.5" font-size="13.5" text-anchor="middle" fill="#222">1</text>
<rect x="361.2" y="337.9" width="14.2" height="13.4" fill="#fff" stroke="#333" stroke-width="1"/>
<text x="368.3" y="349.0" font-size="13.5" text-anchor="middle" fill="#222">2</text>
<rect x="361.2" y="379.6" width="14.2" height="14.0" fill="#fff" stroke="#333" stroke-width="1"/>
<text x="368.3" y="391.3" font-size="13.5" text-anchor="middle" fill="#222">1</text>
<rect x="526.5" y="379.6" width="14.2" height="14.0" fill="#fff" stroke="#333" stroke-width="1"/>
<text x="533.6" y="391.3" font-size="13.5" text-anchor="middle" fill="#222">2</text>
<text x="501.0" y="414.2" font-size="14.5" text-anchor="middle" fill="#222">SOIL</text>
<text x="511.0" y="463.7" font-size="14.5" text-anchor="middle" textLength="236.0" lengthAdjust="spacingAndGlyphs" fill="#222">WEAKLY KARSTIFIED LIMESTONE</text>
<text x="521.0" y="514.6" font-size="14.5" text-anchor="middle" textLength="151.0" lengthAdjust="spacingAndGlyphs" fill="#222">VOIDS-RICH VOLUME</text>
<text x="514.8" y="564.8" font-size="14.5" text-anchor="middle" textLength="133.5" lengthAdjust="spacingAndGlyphs" fill="#222">AIR-FILLED CAVITY</text>
<rect x="356.5" y="428.3" width="23.5" height="10.4" fill="url(#g71)" stroke="#3a3a3a" stroke-width="0.9"/>
<text x="383.1" y="437.6" font-size="14.5" textLength="66.8" lengthAdjust="spacingAndGlyphs" fill="#222">100 [Ω×m]</text>
<rect x="521.5" y="428.3" width="23.5" height="10.2" fill="url(#g72)" stroke="#3a3a3a" stroke-width="0.9"/>
<text x="548.0" y="437.6" font-size="14.5" textLength="97.5" lengthAdjust="spacingAndGlyphs" fill="#222">100-300 [Ω×m]</text>
<rect x="356.5" y="478.4" width="23.5" height="10.6" fill="url(#g73)" stroke="#3a3a3a" stroke-width="0.9"/>
<text x="383.1" y="487.5" font-size="14.5" textLength="91.0" lengthAdjust="spacingAndGlyphs" fill="#222">10.000  [Ω×m]</text>
<rect x="521.5" y="478.8" width="23.5" height="10.4" fill="url(#g74)" stroke="#3a3a3a" stroke-width="0.9"/>
<text x="548.0" y="487.5" font-size="14.5" textLength="117.5" lengthAdjust="spacingAndGlyphs" fill="#222">300-30.000 [Ω×m]</text>
<rect x="356.5" y="529.0" width="23.5" height="10.2" fill="url(#g75)" stroke="#3a3a3a" stroke-width="0.9"/>
<text x="382.0" y="537.8" font-size="14.5" textLength="78.3" lengthAdjust="spacingAndGlyphs" fill="#222">1e+6  [Ω×m]</text>
<rect x="521.5" y="528.8" width="23.5" height="10.2" fill="url(#g76)" stroke="#3a3a3a" stroke-width="0.9"/>
<text x="548.0" y="537.8" font-size="14.5" textLength="136.5" lengthAdjust="spacingAndGlyphs" fill="#222">10.000-2.5e+5 [Ω×m]</text>
<rect x="356.5" y="579.3" width="23.5" height="10.2" fill="url(#g77)" stroke="#3a3a3a" stroke-width="0.9"/>
<text x="382.4" y="588.1" font-size="14.5" textLength="96.0" lengthAdjust="spacingAndGlyphs" fill="#222">2.3e+14 [Ω×m]</text>
<rect x="521.5" y="579.4" width="23.5" height="10.2" fill="url(#g78)" stroke="#3a3a3a" stroke-width="0.9"/>
<text x="548.0" y="588.1" font-size="14.5" textLength="126.0" lengthAdjust="spacingAndGlyphs" fill="#222">30.000-5e+5 [Ω×m]</text>
<circle cx="142.2" cy="585.5" r="1.6" fill="#b4000c" stroke="#6e0a0a" stroke-width="0.6"/>
<text x="167.0" y="590.6" font-size="14.5" textLength="67.0" lengthAdjust="spacingAndGlyphs" fill="#222">electrodes</text>
</svg>
</body></html>
